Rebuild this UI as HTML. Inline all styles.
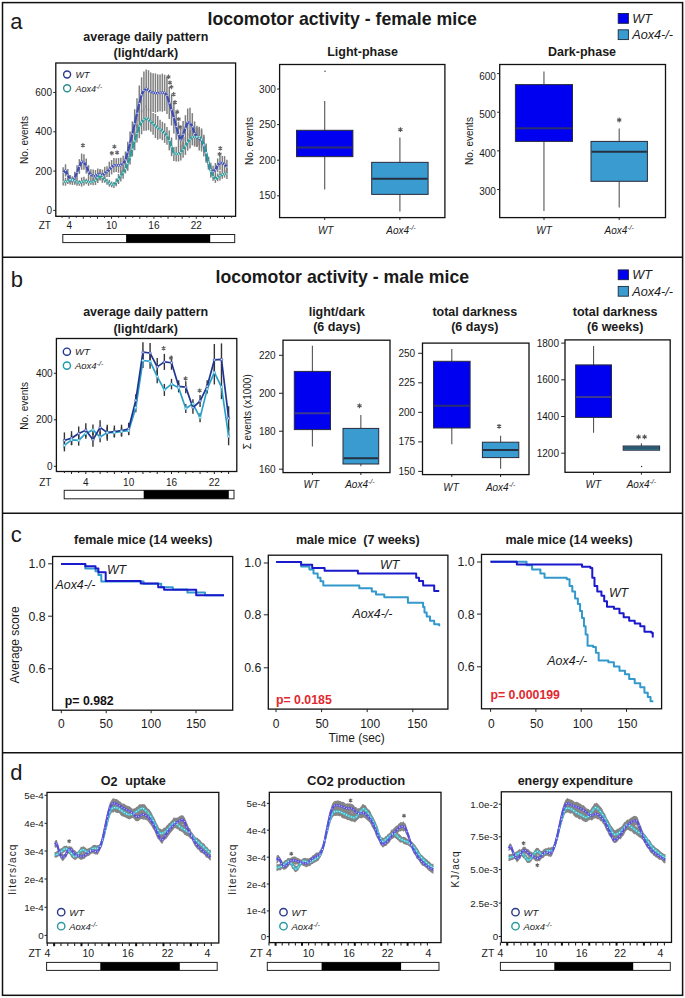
<!DOCTYPE html><html><head><meta charset="utf-8"><style>html,body{margin:0;padding:0;background:#fff;width:685px;height:998px;overflow:hidden}svg{display:block}</style></head><body><svg width="685" height="998" viewBox="0 0 685 998" font-family="Liberation Sans, sans-serif">
<rect x="0" y="0" width="685" height="998" fill="#fff"/>
<rect x="2.50" y="2.60" width="680.10" height="992.70" fill="none" stroke="#111" stroke-width="1.5"/>
<line x1="2.50" y1="257.30" x2="682.60" y2="257.30" stroke="#111" stroke-width="1.5"/>
<line x1="2.50" y1="513.30" x2="682.60" y2="513.30" stroke="#111" stroke-width="1.5"/>
<line x1="2.50" y1="752.80" x2="682.60" y2="752.80" stroke="#111" stroke-width="1.5"/>
<text x="10.20" y="29.00" font-size="22" text-anchor="start" fill="#1a1a1a" >a</text>
<text x="207.50" y="24.50" font-size="17.7" text-anchor="start" font-weight="bold" fill="#1a1a1a" >locomotor activity - female mice</text>
<rect x="618.20" y="13.50" width="10.20" height="9.80" fill="#0000f0" stroke="#1a1a40" stroke-width="0.9"/>
<rect x="618.20" y="29.80" width="10.20" height="9.80" fill="#3a9bd0" stroke="#1a2a3a" stroke-width="0.9"/>
<text x="632.20" y="22.70" font-size="12.7" text-anchor="start" font-style="italic" fill="#1a1a1a" >WT</text>
<text x="632.20" y="39.00" font-size="12.7" text-anchor="start" font-style="italic" fill="#1a1a1a" >Aox4-/-</text>
<text x="145.80" y="41.20" font-size="12.5" text-anchor="middle" font-weight="bold" fill="#1a1a1a" >average daily pattern</text>
<text x="145.80" y="57.20" font-size="12.5" text-anchor="middle" font-weight="bold" fill="#1a1a1a" >(light/dark)</text>
<rect x="55.80" y="63.00" width="179.80" height="153.30" fill="#fff" stroke="#111" stroke-width="1.3"/>
<line x1="53.30" y1="210.40" x2="55.80" y2="210.40" stroke="#222" stroke-width="1"/>
<text x="52.00" y="214.00" font-size="10" text-anchor="end" fill="#1a1a1a" >0</text>
<line x1="53.30" y1="171.10" x2="55.80" y2="171.10" stroke="#222" stroke-width="1"/>
<text x="52.00" y="174.70" font-size="10" text-anchor="end" fill="#1a1a1a" >200</text>
<line x1="53.30" y1="131.80" x2="55.80" y2="131.80" stroke="#222" stroke-width="1"/>
<text x="52.00" y="135.40" font-size="10" text-anchor="end" fill="#1a1a1a" >400</text>
<line x1="53.30" y1="92.50" x2="55.80" y2="92.50" stroke="#222" stroke-width="1"/>
<text x="52.00" y="96.10" font-size="10" text-anchor="end" fill="#1a1a1a" >600</text>
<text x="44.80" y="229.30" font-size="10" text-anchor="middle" fill="#1a1a1a" >ZT</text>
<text x="69.20" y="229.30" font-size="10" text-anchor="middle" fill="#1a1a1a" >4</text>
<text x="111.56" y="229.30" font-size="10" text-anchor="middle" fill="#1a1a1a" >10</text>
<text x="153.92" y="229.30" font-size="10" text-anchor="middle" fill="#1a1a1a" >16</text>
<text x="196.28" y="229.30" font-size="10" text-anchor="middle" fill="#1a1a1a" >22</text>
<line x1="62.14" y1="216.30" x2="62.14" y2="217.80" stroke="#222" stroke-width="1.0"/>
<line x1="69.20" y1="216.30" x2="69.20" y2="218.80" stroke="#222" stroke-width="1.0"/>
<line x1="76.26" y1="216.30" x2="76.26" y2="217.80" stroke="#222" stroke-width="1.0"/>
<line x1="83.32" y1="216.30" x2="83.32" y2="218.80" stroke="#222" stroke-width="1.0"/>
<line x1="90.38" y1="216.30" x2="90.38" y2="217.80" stroke="#222" stroke-width="1.0"/>
<line x1="97.44" y1="216.30" x2="97.44" y2="218.80" stroke="#222" stroke-width="1.0"/>
<line x1="104.50" y1="216.30" x2="104.50" y2="217.80" stroke="#222" stroke-width="1.0"/>
<line x1="111.56" y1="216.30" x2="111.56" y2="218.80" stroke="#222" stroke-width="1.0"/>
<line x1="118.62" y1="216.30" x2="118.62" y2="217.80" stroke="#222" stroke-width="1.0"/>
<line x1="125.68" y1="216.30" x2="125.68" y2="218.80" stroke="#222" stroke-width="1.0"/>
<line x1="132.74" y1="216.30" x2="132.74" y2="217.80" stroke="#222" stroke-width="1.0"/>
<line x1="139.80" y1="216.30" x2="139.80" y2="218.80" stroke="#222" stroke-width="1.0"/>
<line x1="146.86" y1="216.30" x2="146.86" y2="217.80" stroke="#222" stroke-width="1.0"/>
<line x1="153.92" y1="216.30" x2="153.92" y2="218.80" stroke="#222" stroke-width="1.0"/>
<line x1="160.98" y1="216.30" x2="160.98" y2="217.80" stroke="#222" stroke-width="1.0"/>
<line x1="168.04" y1="216.30" x2="168.04" y2="218.80" stroke="#222" stroke-width="1.0"/>
<line x1="175.10" y1="216.30" x2="175.10" y2="217.80" stroke="#222" stroke-width="1.0"/>
<line x1="182.16" y1="216.30" x2="182.16" y2="218.80" stroke="#222" stroke-width="1.0"/>
<line x1="189.22" y1="216.30" x2="189.22" y2="217.80" stroke="#222" stroke-width="1.0"/>
<line x1="196.28" y1="216.30" x2="196.28" y2="218.80" stroke="#222" stroke-width="1.0"/>
<line x1="203.34" y1="216.30" x2="203.34" y2="217.80" stroke="#222" stroke-width="1.0"/>
<line x1="210.40" y1="216.30" x2="210.40" y2="218.80" stroke="#222" stroke-width="1.0"/>
<line x1="217.46" y1="216.30" x2="217.46" y2="217.80" stroke="#222" stroke-width="1.0"/>
<line x1="224.52" y1="216.30" x2="224.52" y2="218.80" stroke="#222" stroke-width="1.0"/>
<line x1="231.58" y1="216.30" x2="231.58" y2="217.80" stroke="#222" stroke-width="1.0"/>
<rect x="62.80" y="234.50" width="171.90" height="8.10" fill="#fff" stroke="#222" stroke-width="1.0"/>
<rect x="126.10" y="234.50" width="84.10" height="8.10" fill="#000"/>
<text x="0" y="0" font-size="10" text-anchor="middle" fill="#1a1a1a" transform="translate(28.00,140.00) rotate(-90)">No. events</text>
<line x1="63.20" y1="167.25" x2="63.20" y2="178.09" stroke="#7f7f7f" stroke-width="1.5"/>
<line x1="63.20" y1="177.88" x2="63.20" y2="185.54" stroke="#7f7f7f" stroke-width="1.5"/>
<line x1="65.51" y1="164.31" x2="65.51" y2="176.50" stroke="#7f7f7f" stroke-width="1.5"/>
<line x1="65.51" y1="177.74" x2="65.51" y2="185.69" stroke="#7f7f7f" stroke-width="1.5"/>
<line x1="67.81" y1="168.98" x2="67.81" y2="180.92" stroke="#7f7f7f" stroke-width="1.5"/>
<line x1="67.81" y1="178.49" x2="67.81" y2="184.02" stroke="#7f7f7f" stroke-width="1.5"/>
<line x1="70.12" y1="175.34" x2="70.12" y2="183.03" stroke="#7f7f7f" stroke-width="1.5"/>
<line x1="70.12" y1="175.01" x2="70.12" y2="184.56" stroke="#7f7f7f" stroke-width="1.5"/>
<line x1="72.42" y1="176.69" x2="72.42" y2="185.01" stroke="#7f7f7f" stroke-width="1.5"/>
<line x1="72.42" y1="176.40" x2="72.42" y2="183.11" stroke="#7f7f7f" stroke-width="1.5"/>
<line x1="74.73" y1="171.77" x2="74.73" y2="184.44" stroke="#7f7f7f" stroke-width="1.5"/>
<line x1="74.73" y1="177.02" x2="74.73" y2="184.58" stroke="#7f7f7f" stroke-width="1.5"/>
<line x1="77.03" y1="165.31" x2="77.03" y2="179.11" stroke="#7f7f7f" stroke-width="1.5"/>
<line x1="77.03" y1="178.39" x2="77.03" y2="185.66" stroke="#7f7f7f" stroke-width="1.5"/>
<line x1="79.34" y1="159.16" x2="79.34" y2="173.86" stroke="#7f7f7f" stroke-width="1.5"/>
<line x1="79.34" y1="180.20" x2="79.34" y2="185.69" stroke="#7f7f7f" stroke-width="1.5"/>
<line x1="81.65" y1="153.56" x2="81.65" y2="169.79" stroke="#7f7f7f" stroke-width="1.5"/>
<line x1="81.65" y1="177.43" x2="81.65" y2="186.55" stroke="#7f7f7f" stroke-width="1.5"/>
<line x1="83.95" y1="154.30" x2="83.95" y2="169.87" stroke="#7f7f7f" stroke-width="1.5"/>
<line x1="83.95" y1="176.64" x2="83.95" y2="185.42" stroke="#7f7f7f" stroke-width="1.5"/>
<line x1="86.26" y1="158.55" x2="86.26" y2="173.55" stroke="#7f7f7f" stroke-width="1.5"/>
<line x1="86.26" y1="178.69" x2="86.26" y2="184.17" stroke="#7f7f7f" stroke-width="1.5"/>
<line x1="88.56" y1="165.13" x2="88.56" y2="178.67" stroke="#7f7f7f" stroke-width="1.5"/>
<line x1="88.56" y1="178.03" x2="88.56" y2="185.86" stroke="#7f7f7f" stroke-width="1.5"/>
<line x1="90.87" y1="169.24" x2="90.87" y2="179.78" stroke="#7f7f7f" stroke-width="1.5"/>
<line x1="90.87" y1="179.61" x2="90.87" y2="184.74" stroke="#7f7f7f" stroke-width="1.5"/>
<line x1="93.17" y1="169.57" x2="93.17" y2="182.32" stroke="#7f7f7f" stroke-width="1.5"/>
<line x1="93.17" y1="177.98" x2="93.17" y2="185.32" stroke="#7f7f7f" stroke-width="1.5"/>
<line x1="95.48" y1="170.10" x2="95.48" y2="182.11" stroke="#7f7f7f" stroke-width="1.5"/>
<line x1="95.48" y1="175.45" x2="95.48" y2="185.07" stroke="#7f7f7f" stroke-width="1.5"/>
<line x1="97.78" y1="168.40" x2="97.78" y2="180.86" stroke="#7f7f7f" stroke-width="1.5"/>
<line x1="97.78" y1="172.61" x2="97.78" y2="183.06" stroke="#7f7f7f" stroke-width="1.5"/>
<line x1="100.09" y1="168.97" x2="100.09" y2="179.97" stroke="#7f7f7f" stroke-width="1.5"/>
<line x1="100.09" y1="170.04" x2="100.09" y2="180.58" stroke="#7f7f7f" stroke-width="1.5"/>
<line x1="102.40" y1="169.66" x2="102.40" y2="180.67" stroke="#7f7f7f" stroke-width="1.5"/>
<line x1="102.40" y1="172.22" x2="102.40" y2="182.82" stroke="#7f7f7f" stroke-width="1.5"/>
<line x1="104.70" y1="166.79" x2="104.70" y2="180.36" stroke="#7f7f7f" stroke-width="1.5"/>
<line x1="104.70" y1="176.62" x2="104.70" y2="182.71" stroke="#7f7f7f" stroke-width="1.5"/>
<line x1="107.01" y1="166.33" x2="107.01" y2="177.01" stroke="#7f7f7f" stroke-width="1.5"/>
<line x1="107.01" y1="178.64" x2="107.01" y2="184.77" stroke="#7f7f7f" stroke-width="1.5"/>
<line x1="109.31" y1="161.68" x2="109.31" y2="177.01" stroke="#7f7f7f" stroke-width="1.5"/>
<line x1="109.31" y1="179.82" x2="109.31" y2="186.59" stroke="#7f7f7f" stroke-width="1.5"/>
<line x1="111.62" y1="159.98" x2="111.62" y2="174.41" stroke="#7f7f7f" stroke-width="1.5"/>
<line x1="111.62" y1="181.46" x2="111.62" y2="187.29" stroke="#7f7f7f" stroke-width="1.5"/>
<line x1="113.92" y1="157.97" x2="113.92" y2="172.47" stroke="#7f7f7f" stroke-width="1.5"/>
<line x1="113.92" y1="181.90" x2="113.92" y2="187.98" stroke="#7f7f7f" stroke-width="1.5"/>
<line x1="116.23" y1="158.18" x2="116.23" y2="171.98" stroke="#7f7f7f" stroke-width="1.5"/>
<line x1="116.23" y1="178.51" x2="116.23" y2="186.20" stroke="#7f7f7f" stroke-width="1.5"/>
<line x1="118.54" y1="158.00" x2="118.54" y2="172.80" stroke="#7f7f7f" stroke-width="1.5"/>
<line x1="118.54" y1="173.94" x2="118.54" y2="184.02" stroke="#7f7f7f" stroke-width="1.5"/>
<line x1="120.84" y1="157.77" x2="120.84" y2="173.03" stroke="#7f7f7f" stroke-width="1.5"/>
<line x1="120.84" y1="170.47" x2="120.84" y2="181.45" stroke="#7f7f7f" stroke-width="1.5"/>
<line x1="123.15" y1="155.67" x2="123.15" y2="172.21" stroke="#7f7f7f" stroke-width="1.5"/>
<line x1="123.15" y1="166.57" x2="123.15" y2="178.70" stroke="#7f7f7f" stroke-width="1.5"/>
<line x1="125.45" y1="151.48" x2="125.45" y2="168.43" stroke="#7f7f7f" stroke-width="1.5"/>
<line x1="125.45" y1="164.17" x2="125.45" y2="173.40" stroke="#7f7f7f" stroke-width="1.5"/>
<line x1="127.76" y1="141.80" x2="127.76" y2="162.19" stroke="#7f7f7f" stroke-width="1.5"/>
<line x1="127.76" y1="156.36" x2="127.76" y2="170.73" stroke="#7f7f7f" stroke-width="1.5"/>
<line x1="130.06" y1="131.59" x2="130.06" y2="154.98" stroke="#7f7f7f" stroke-width="1.5"/>
<line x1="130.06" y1="150.47" x2="130.06" y2="164.55" stroke="#7f7f7f" stroke-width="1.5"/>
<line x1="132.37" y1="121.39" x2="132.37" y2="146.82" stroke="#7f7f7f" stroke-width="1.5"/>
<line x1="132.37" y1="142.00" x2="132.37" y2="156.53" stroke="#7f7f7f" stroke-width="1.5"/>
<line x1="134.67" y1="109.19" x2="134.67" y2="138.46" stroke="#7f7f7f" stroke-width="1.5"/>
<line x1="134.67" y1="131.86" x2="134.67" y2="150.24" stroke="#7f7f7f" stroke-width="1.5"/>
<line x1="136.98" y1="98.32" x2="136.98" y2="128.36" stroke="#7f7f7f" stroke-width="1.5"/>
<line x1="136.98" y1="124.53" x2="136.98" y2="142.47" stroke="#7f7f7f" stroke-width="1.5"/>
<line x1="139.29" y1="85.48" x2="139.29" y2="121.38" stroke="#7f7f7f" stroke-width="1.5"/>
<line x1="139.29" y1="113.91" x2="139.29" y2="138.16" stroke="#7f7f7f" stroke-width="1.5"/>
<line x1="141.59" y1="77.29" x2="141.59" y2="112.34" stroke="#7f7f7f" stroke-width="1.5"/>
<line x1="141.59" y1="109.94" x2="141.59" y2="134.31" stroke="#7f7f7f" stroke-width="1.5"/>
<line x1="143.90" y1="71.60" x2="143.90" y2="109.53" stroke="#7f7f7f" stroke-width="1.5"/>
<line x1="143.90" y1="108.83" x2="143.90" y2="130.74" stroke="#7f7f7f" stroke-width="1.5"/>
<line x1="146.20" y1="69.48" x2="146.20" y2="107.52" stroke="#7f7f7f" stroke-width="1.5"/>
<line x1="146.20" y1="105.45" x2="146.20" y2="130.72" stroke="#7f7f7f" stroke-width="1.5"/>
<line x1="148.51" y1="70.25" x2="148.51" y2="110.42" stroke="#7f7f7f" stroke-width="1.5"/>
<line x1="148.51" y1="108.68" x2="148.51" y2="130.18" stroke="#7f7f7f" stroke-width="1.5"/>
<line x1="150.81" y1="72.44" x2="150.81" y2="110.96" stroke="#7f7f7f" stroke-width="1.5"/>
<line x1="150.81" y1="110.87" x2="150.81" y2="131.87" stroke="#7f7f7f" stroke-width="1.5"/>
<line x1="153.12" y1="73.35" x2="153.12" y2="112.05" stroke="#7f7f7f" stroke-width="1.5"/>
<line x1="153.12" y1="112.90" x2="153.12" y2="134.63" stroke="#7f7f7f" stroke-width="1.5"/>
<line x1="155.43" y1="73.40" x2="155.43" y2="112.74" stroke="#7f7f7f" stroke-width="1.5"/>
<line x1="155.43" y1="113.86" x2="155.43" y2="138.08" stroke="#7f7f7f" stroke-width="1.5"/>
<line x1="157.73" y1="74.36" x2="157.73" y2="111.91" stroke="#7f7f7f" stroke-width="1.5"/>
<line x1="157.73" y1="115.93" x2="157.73" y2="139.75" stroke="#7f7f7f" stroke-width="1.5"/>
<line x1="160.04" y1="74.38" x2="160.04" y2="111.13" stroke="#7f7f7f" stroke-width="1.5"/>
<line x1="160.04" y1="119.67" x2="160.04" y2="138.78" stroke="#7f7f7f" stroke-width="1.5"/>
<line x1="162.34" y1="73.63" x2="162.34" y2="111.76" stroke="#7f7f7f" stroke-width="1.5"/>
<line x1="162.34" y1="121.77" x2="162.34" y2="140.21" stroke="#7f7f7f" stroke-width="1.5"/>
<line x1="164.65" y1="74.75" x2="164.65" y2="110.94" stroke="#7f7f7f" stroke-width="1.5"/>
<line x1="164.65" y1="123.21" x2="164.65" y2="142.89" stroke="#7f7f7f" stroke-width="1.5"/>
<line x1="166.95" y1="76.75" x2="166.95" y2="114.07" stroke="#7f7f7f" stroke-width="1.5"/>
<line x1="166.95" y1="126.93" x2="166.95" y2="144.70" stroke="#7f7f7f" stroke-width="1.5"/>
<line x1="169.26" y1="86.77" x2="169.26" y2="119.02" stroke="#7f7f7f" stroke-width="1.5"/>
<line x1="169.26" y1="130.42" x2="169.26" y2="150.36" stroke="#7f7f7f" stroke-width="1.5"/>
<line x1="171.56" y1="94.16" x2="171.56" y2="125.47" stroke="#7f7f7f" stroke-width="1.5"/>
<line x1="171.56" y1="137.49" x2="171.56" y2="156.18" stroke="#7f7f7f" stroke-width="1.5"/>
<line x1="173.87" y1="101.89" x2="173.87" y2="133.44" stroke="#7f7f7f" stroke-width="1.5"/>
<line x1="173.87" y1="146.96" x2="173.87" y2="161.05" stroke="#7f7f7f" stroke-width="1.5"/>
<line x1="176.18" y1="113.10" x2="176.18" y2="139.78" stroke="#7f7f7f" stroke-width="1.5"/>
<line x1="176.18" y1="146.63" x2="176.18" y2="161.38" stroke="#7f7f7f" stroke-width="1.5"/>
<line x1="178.48" y1="122.10" x2="178.48" y2="147.04" stroke="#7f7f7f" stroke-width="1.5"/>
<line x1="178.48" y1="146.45" x2="178.48" y2="161.56" stroke="#7f7f7f" stroke-width="1.5"/>
<line x1="180.79" y1="128.59" x2="180.79" y2="151.40" stroke="#7f7f7f" stroke-width="1.5"/>
<line x1="180.79" y1="144.80" x2="180.79" y2="160.39" stroke="#7f7f7f" stroke-width="1.5"/>
<line x1="183.09" y1="121.09" x2="183.09" y2="147.52" stroke="#7f7f7f" stroke-width="1.5"/>
<line x1="183.09" y1="141.86" x2="183.09" y2="157.66" stroke="#7f7f7f" stroke-width="1.5"/>
<line x1="185.40" y1="115.18" x2="185.40" y2="141.17" stroke="#7f7f7f" stroke-width="1.5"/>
<line x1="185.40" y1="137.09" x2="185.40" y2="154.88" stroke="#7f7f7f" stroke-width="1.5"/>
<line x1="187.70" y1="108.59" x2="187.70" y2="135.61" stroke="#7f7f7f" stroke-width="1.5"/>
<line x1="187.70" y1="133.81" x2="187.70" y2="150.60" stroke="#7f7f7f" stroke-width="1.5"/>
<line x1="190.01" y1="107.85" x2="190.01" y2="138.08" stroke="#7f7f7f" stroke-width="1.5"/>
<line x1="190.01" y1="129.88" x2="190.01" y2="148.50" stroke="#7f7f7f" stroke-width="1.5"/>
<line x1="192.32" y1="113.14" x2="192.32" y2="140.17" stroke="#7f7f7f" stroke-width="1.5"/>
<line x1="192.32" y1="128.59" x2="192.32" y2="145.38" stroke="#7f7f7f" stroke-width="1.5"/>
<line x1="194.62" y1="121.43" x2="194.62" y2="145.63" stroke="#7f7f7f" stroke-width="1.5"/>
<line x1="194.62" y1="127.19" x2="194.62" y2="146.67" stroke="#7f7f7f" stroke-width="1.5"/>
<line x1="196.93" y1="125.65" x2="196.93" y2="147.08" stroke="#7f7f7f" stroke-width="1.5"/>
<line x1="196.93" y1="127.22" x2="196.93" y2="146.84" stroke="#7f7f7f" stroke-width="1.5"/>
<line x1="199.23" y1="126.79" x2="199.23" y2="150.39" stroke="#7f7f7f" stroke-width="1.5"/>
<line x1="199.23" y1="128.25" x2="199.23" y2="145.32" stroke="#7f7f7f" stroke-width="1.5"/>
<line x1="201.54" y1="128.40" x2="201.54" y2="151.54" stroke="#7f7f7f" stroke-width="1.5"/>
<line x1="201.54" y1="129.97" x2="201.54" y2="148.34" stroke="#7f7f7f" stroke-width="1.5"/>
<line x1="203.84" y1="134.85" x2="203.84" y2="156.42" stroke="#7f7f7f" stroke-width="1.5"/>
<line x1="203.84" y1="136.44" x2="203.84" y2="152.84" stroke="#7f7f7f" stroke-width="1.5"/>
<line x1="206.15" y1="143.40" x2="206.15" y2="162.73" stroke="#7f7f7f" stroke-width="1.5"/>
<line x1="206.15" y1="144.81" x2="206.15" y2="160.90" stroke="#7f7f7f" stroke-width="1.5"/>
<line x1="208.45" y1="156.98" x2="208.45" y2="169.77" stroke="#7f7f7f" stroke-width="1.5"/>
<line x1="208.45" y1="156.82" x2="208.45" y2="167.32" stroke="#7f7f7f" stroke-width="1.5"/>
<line x1="210.76" y1="162.64" x2="210.76" y2="176.53" stroke="#7f7f7f" stroke-width="1.5"/>
<line x1="210.76" y1="165.11" x2="210.76" y2="177.46" stroke="#7f7f7f" stroke-width="1.5"/>
<line x1="213.07" y1="165.85" x2="213.07" y2="177.13" stroke="#7f7f7f" stroke-width="1.5"/>
<line x1="213.07" y1="172.09" x2="213.07" y2="180.72" stroke="#7f7f7f" stroke-width="1.5"/>
<line x1="215.37" y1="162.99" x2="215.37" y2="176.45" stroke="#7f7f7f" stroke-width="1.5"/>
<line x1="215.37" y1="175.58" x2="215.37" y2="182.84" stroke="#7f7f7f" stroke-width="1.5"/>
<line x1="217.68" y1="158.42" x2="217.68" y2="172.21" stroke="#7f7f7f" stroke-width="1.5"/>
<line x1="217.68" y1="173.47" x2="217.68" y2="181.18" stroke="#7f7f7f" stroke-width="1.5"/>
<line x1="219.98" y1="155.69" x2="219.98" y2="170.25" stroke="#7f7f7f" stroke-width="1.5"/>
<line x1="219.98" y1="170.98" x2="219.98" y2="180.45" stroke="#7f7f7f" stroke-width="1.5"/>
<line x1="222.29" y1="155.97" x2="222.29" y2="170.17" stroke="#7f7f7f" stroke-width="1.5"/>
<line x1="222.29" y1="169.97" x2="222.29" y2="178.76" stroke="#7f7f7f" stroke-width="1.5"/>
<line x1="224.59" y1="156.12" x2="224.59" y2="172.20" stroke="#7f7f7f" stroke-width="1.5"/>
<line x1="224.59" y1="170.34" x2="224.59" y2="177.58" stroke="#7f7f7f" stroke-width="1.5"/>
<line x1="226.90" y1="159.86" x2="226.90" y2="174.09" stroke="#7f7f7f" stroke-width="1.5"/>
<line x1="226.90" y1="168.32" x2="226.90" y2="178.99" stroke="#7f7f7f" stroke-width="1.5"/>
<polyline points="63.20,172.67 65.51,170.41 67.81,174.95 70.12,179.18 72.42,180.85 74.73,178.10 77.03,172.21 79.34,166.51 81.65,161.68 83.95,162.09 86.26,166.05 88.56,171.90 90.87,174.51 93.17,175.95 95.48,176.10 97.78,174.63 100.09,174.47 102.40,175.16 104.70,173.57 107.01,171.67 109.31,169.35 111.62,167.19 113.92,165.22 116.23,165.08 118.54,165.40 120.84,165.40 123.15,163.94 125.45,159.96 127.76,151.99 130.06,143.28 132.37,134.10 134.67,123.82 136.98,113.34 139.29,103.43 141.59,94.82 143.90,90.57 146.20,88.50 148.51,90.33 150.81,91.70 153.12,92.70 155.43,93.07 157.73,93.13 160.04,92.76 162.34,92.70 164.65,92.84 166.95,95.41 169.26,102.90 171.56,109.82 173.87,117.66 176.18,126.44 178.48,134.57 180.79,140.00 183.09,134.31 185.40,128.18 187.70,122.10 190.01,122.97 192.32,126.66 194.62,133.53 196.93,136.37 199.23,138.59 201.54,139.97 203.84,145.63 206.15,153.07 208.45,163.38 210.76,169.59 213.07,171.49 215.37,169.72 217.68,165.32 219.98,162.97 222.29,163.07 224.59,164.16 226.90,166.97" fill="none" stroke="#3d4db5" stroke-width="2.2" stroke-linejoin="round" />
<polyline points="63.20,181.71 65.51,181.71 67.81,181.26 70.12,179.78 72.42,179.76 74.73,180.80 77.03,182.02 79.34,182.95 81.65,181.99 83.95,181.03 86.26,181.43 88.56,181.94 90.87,182.18 93.17,181.65 95.48,180.26 97.78,177.84 100.09,175.31 102.40,177.52 104.70,179.67 107.01,181.71 109.31,183.21 111.62,184.37 113.92,184.94 116.23,182.36 118.54,178.98 120.84,175.96 123.15,172.63 125.45,168.78 127.76,163.55 130.06,157.51 132.37,149.26 134.67,141.05 136.98,133.50 139.29,126.03 141.59,122.13 143.90,119.78 146.20,118.08 148.51,119.43 150.81,121.37 153.12,123.76 155.43,125.97 157.73,127.84 160.04,129.22 162.34,130.99 164.65,133.05 166.95,135.82 169.26,140.39 171.56,146.83 173.87,154.00 176.18,154.00 178.48,154.00 180.79,152.59 183.09,149.76 185.40,145.98 187.70,142.21 190.01,139.19 192.32,136.98 194.62,136.93 196.93,137.03 199.23,136.78 201.54,139.15 203.84,144.64 206.15,152.85 208.45,162.07 210.76,171.29 213.07,176.41 215.37,179.21 217.68,177.32 219.98,175.71 222.29,174.37 224.59,173.96 226.90,173.65" fill="none" stroke="#2a9c9c" stroke-width="2.2" stroke-linejoin="round" />
<circle cx="63.20" cy="172.67" r="0.75" fill="#d8def8"/>
<circle cx="65.51" cy="170.41" r="0.75" fill="#d8def8"/>
<circle cx="67.81" cy="174.95" r="0.75" fill="#d8def8"/>
<circle cx="70.12" cy="179.18" r="0.75" fill="#d8def8"/>
<circle cx="72.42" cy="180.85" r="0.75" fill="#d8def8"/>
<circle cx="74.73" cy="178.10" r="0.75" fill="#d8def8"/>
<circle cx="77.03" cy="172.21" r="0.75" fill="#d8def8"/>
<circle cx="79.34" cy="166.51" r="0.75" fill="#d8def8"/>
<circle cx="81.65" cy="161.68" r="0.75" fill="#d8def8"/>
<circle cx="83.95" cy="162.09" r="0.75" fill="#d8def8"/>
<circle cx="86.26" cy="166.05" r="0.75" fill="#d8def8"/>
<circle cx="88.56" cy="171.90" r="0.75" fill="#d8def8"/>
<circle cx="90.87" cy="174.51" r="0.75" fill="#d8def8"/>
<circle cx="93.17" cy="175.95" r="0.75" fill="#d8def8"/>
<circle cx="95.48" cy="176.10" r="0.75" fill="#d8def8"/>
<circle cx="97.78" cy="174.63" r="0.75" fill="#d8def8"/>
<circle cx="100.09" cy="174.47" r="0.75" fill="#d8def8"/>
<circle cx="102.40" cy="175.16" r="0.75" fill="#d8def8"/>
<circle cx="104.70" cy="173.57" r="0.75" fill="#d8def8"/>
<circle cx="107.01" cy="171.67" r="0.75" fill="#d8def8"/>
<circle cx="109.31" cy="169.35" r="0.75" fill="#d8def8"/>
<circle cx="111.62" cy="167.19" r="0.75" fill="#d8def8"/>
<circle cx="113.92" cy="165.22" r="0.75" fill="#d8def8"/>
<circle cx="116.23" cy="165.08" r="0.75" fill="#d8def8"/>
<circle cx="118.54" cy="165.40" r="0.75" fill="#d8def8"/>
<circle cx="120.84" cy="165.40" r="0.75" fill="#d8def8"/>
<circle cx="123.15" cy="163.94" r="0.75" fill="#d8def8"/>
<circle cx="125.45" cy="159.96" r="0.75" fill="#d8def8"/>
<circle cx="127.76" cy="151.99" r="0.75" fill="#d8def8"/>
<circle cx="130.06" cy="143.28" r="0.75" fill="#d8def8"/>
<circle cx="132.37" cy="134.10" r="0.75" fill="#d8def8"/>
<circle cx="134.67" cy="123.82" r="0.75" fill="#d8def8"/>
<circle cx="136.98" cy="113.34" r="0.75" fill="#d8def8"/>
<circle cx="139.29" cy="103.43" r="0.75" fill="#d8def8"/>
<circle cx="141.59" cy="94.82" r="0.75" fill="#d8def8"/>
<circle cx="143.90" cy="90.57" r="0.75" fill="#d8def8"/>
<circle cx="146.20" cy="88.50" r="0.75" fill="#d8def8"/>
<circle cx="148.51" cy="90.33" r="0.75" fill="#d8def8"/>
<circle cx="150.81" cy="91.70" r="0.75" fill="#d8def8"/>
<circle cx="153.12" cy="92.70" r="0.75" fill="#d8def8"/>
<circle cx="155.43" cy="93.07" r="0.75" fill="#d8def8"/>
<circle cx="157.73" cy="93.13" r="0.75" fill="#d8def8"/>
<circle cx="160.04" cy="92.76" r="0.75" fill="#d8def8"/>
<circle cx="162.34" cy="92.70" r="0.75" fill="#d8def8"/>
<circle cx="164.65" cy="92.84" r="0.75" fill="#d8def8"/>
<circle cx="166.95" cy="95.41" r="0.75" fill="#d8def8"/>
<circle cx="169.26" cy="102.90" r="0.75" fill="#d8def8"/>
<circle cx="171.56" cy="109.82" r="0.75" fill="#d8def8"/>
<circle cx="173.87" cy="117.66" r="0.75" fill="#d8def8"/>
<circle cx="176.18" cy="126.44" r="0.75" fill="#d8def8"/>
<circle cx="178.48" cy="134.57" r="0.75" fill="#d8def8"/>
<circle cx="180.79" cy="140.00" r="0.75" fill="#d8def8"/>
<circle cx="183.09" cy="134.31" r="0.75" fill="#d8def8"/>
<circle cx="185.40" cy="128.18" r="0.75" fill="#d8def8"/>
<circle cx="187.70" cy="122.10" r="0.75" fill="#d8def8"/>
<circle cx="190.01" cy="122.97" r="0.75" fill="#d8def8"/>
<circle cx="192.32" cy="126.66" r="0.75" fill="#d8def8"/>
<circle cx="194.62" cy="133.53" r="0.75" fill="#d8def8"/>
<circle cx="196.93" cy="136.37" r="0.75" fill="#d8def8"/>
<circle cx="199.23" cy="138.59" r="0.75" fill="#d8def8"/>
<circle cx="201.54" cy="139.97" r="0.75" fill="#d8def8"/>
<circle cx="203.84" cy="145.63" r="0.75" fill="#d8def8"/>
<circle cx="206.15" cy="153.07" r="0.75" fill="#d8def8"/>
<circle cx="208.45" cy="163.38" r="0.75" fill="#d8def8"/>
<circle cx="210.76" cy="169.59" r="0.75" fill="#d8def8"/>
<circle cx="213.07" cy="171.49" r="0.75" fill="#d8def8"/>
<circle cx="215.37" cy="169.72" r="0.75" fill="#d8def8"/>
<circle cx="217.68" cy="165.32" r="0.75" fill="#d8def8"/>
<circle cx="219.98" cy="162.97" r="0.75" fill="#d8def8"/>
<circle cx="222.29" cy="163.07" r="0.75" fill="#d8def8"/>
<circle cx="224.59" cy="164.16" r="0.75" fill="#d8def8"/>
<circle cx="226.90" cy="166.97" r="0.75" fill="#d8def8"/>
<circle cx="63.20" cy="181.71" r="0.75" fill="#d0f4f4"/>
<circle cx="65.51" cy="181.71" r="0.75" fill="#d0f4f4"/>
<circle cx="67.81" cy="181.26" r="0.75" fill="#d0f4f4"/>
<circle cx="70.12" cy="179.78" r="0.75" fill="#d0f4f4"/>
<circle cx="72.42" cy="179.76" r="0.75" fill="#d0f4f4"/>
<circle cx="74.73" cy="180.80" r="0.75" fill="#d0f4f4"/>
<circle cx="77.03" cy="182.02" r="0.75" fill="#d0f4f4"/>
<circle cx="79.34" cy="182.95" r="0.75" fill="#d0f4f4"/>
<circle cx="81.65" cy="181.99" r="0.75" fill="#d0f4f4"/>
<circle cx="83.95" cy="181.03" r="0.75" fill="#d0f4f4"/>
<circle cx="86.26" cy="181.43" r="0.75" fill="#d0f4f4"/>
<circle cx="88.56" cy="181.94" r="0.75" fill="#d0f4f4"/>
<circle cx="90.87" cy="182.18" r="0.75" fill="#d0f4f4"/>
<circle cx="93.17" cy="181.65" r="0.75" fill="#d0f4f4"/>
<circle cx="95.48" cy="180.26" r="0.75" fill="#d0f4f4"/>
<circle cx="97.78" cy="177.84" r="0.75" fill="#d0f4f4"/>
<circle cx="100.09" cy="175.31" r="0.75" fill="#d0f4f4"/>
<circle cx="102.40" cy="177.52" r="0.75" fill="#d0f4f4"/>
<circle cx="104.70" cy="179.67" r="0.75" fill="#d0f4f4"/>
<circle cx="107.01" cy="181.71" r="0.75" fill="#d0f4f4"/>
<circle cx="109.31" cy="183.21" r="0.75" fill="#d0f4f4"/>
<circle cx="111.62" cy="184.37" r="0.75" fill="#d0f4f4"/>
<circle cx="113.92" cy="184.94" r="0.75" fill="#d0f4f4"/>
<circle cx="116.23" cy="182.36" r="0.75" fill="#d0f4f4"/>
<circle cx="118.54" cy="178.98" r="0.75" fill="#d0f4f4"/>
<circle cx="120.84" cy="175.96" r="0.75" fill="#d0f4f4"/>
<circle cx="123.15" cy="172.63" r="0.75" fill="#d0f4f4"/>
<circle cx="125.45" cy="168.78" r="0.75" fill="#d0f4f4"/>
<circle cx="127.76" cy="163.55" r="0.75" fill="#d0f4f4"/>
<circle cx="130.06" cy="157.51" r="0.75" fill="#d0f4f4"/>
<circle cx="132.37" cy="149.26" r="0.75" fill="#d0f4f4"/>
<circle cx="134.67" cy="141.05" r="0.75" fill="#d0f4f4"/>
<circle cx="136.98" cy="133.50" r="0.75" fill="#d0f4f4"/>
<circle cx="139.29" cy="126.03" r="0.75" fill="#d0f4f4"/>
<circle cx="141.59" cy="122.13" r="0.75" fill="#d0f4f4"/>
<circle cx="143.90" cy="119.78" r="0.75" fill="#d0f4f4"/>
<circle cx="146.20" cy="118.08" r="0.75" fill="#d0f4f4"/>
<circle cx="148.51" cy="119.43" r="0.75" fill="#d0f4f4"/>
<circle cx="150.81" cy="121.37" r="0.75" fill="#d0f4f4"/>
<circle cx="153.12" cy="123.76" r="0.75" fill="#d0f4f4"/>
<circle cx="155.43" cy="125.97" r="0.75" fill="#d0f4f4"/>
<circle cx="157.73" cy="127.84" r="0.75" fill="#d0f4f4"/>
<circle cx="160.04" cy="129.22" r="0.75" fill="#d0f4f4"/>
<circle cx="162.34" cy="130.99" r="0.75" fill="#d0f4f4"/>
<circle cx="164.65" cy="133.05" r="0.75" fill="#d0f4f4"/>
<circle cx="166.95" cy="135.82" r="0.75" fill="#d0f4f4"/>
<circle cx="169.26" cy="140.39" r="0.75" fill="#d0f4f4"/>
<circle cx="171.56" cy="146.83" r="0.75" fill="#d0f4f4"/>
<circle cx="173.87" cy="154.00" r="0.75" fill="#d0f4f4"/>
<circle cx="176.18" cy="154.00" r="0.75" fill="#d0f4f4"/>
<circle cx="178.48" cy="154.00" r="0.75" fill="#d0f4f4"/>
<circle cx="180.79" cy="152.59" r="0.75" fill="#d0f4f4"/>
<circle cx="183.09" cy="149.76" r="0.75" fill="#d0f4f4"/>
<circle cx="185.40" cy="145.98" r="0.75" fill="#d0f4f4"/>
<circle cx="187.70" cy="142.21" r="0.75" fill="#d0f4f4"/>
<circle cx="190.01" cy="139.19" r="0.75" fill="#d0f4f4"/>
<circle cx="192.32" cy="136.98" r="0.75" fill="#d0f4f4"/>
<circle cx="194.62" cy="136.93" r="0.75" fill="#d0f4f4"/>
<circle cx="196.93" cy="137.03" r="0.75" fill="#d0f4f4"/>
<circle cx="199.23" cy="136.78" r="0.75" fill="#d0f4f4"/>
<circle cx="201.54" cy="139.15" r="0.75" fill="#d0f4f4"/>
<circle cx="203.84" cy="144.64" r="0.75" fill="#d0f4f4"/>
<circle cx="206.15" cy="152.85" r="0.75" fill="#d0f4f4"/>
<circle cx="208.45" cy="162.07" r="0.75" fill="#d0f4f4"/>
<circle cx="210.76" cy="171.29" r="0.75" fill="#d0f4f4"/>
<circle cx="213.07" cy="176.41" r="0.75" fill="#d0f4f4"/>
<circle cx="215.37" cy="179.21" r="0.75" fill="#d0f4f4"/>
<circle cx="217.68" cy="177.32" r="0.75" fill="#d0f4f4"/>
<circle cx="219.98" cy="175.71" r="0.75" fill="#d0f4f4"/>
<circle cx="222.29" cy="174.37" r="0.75" fill="#d0f4f4"/>
<circle cx="224.59" cy="173.96" r="0.75" fill="#d0f4f4"/>
<circle cx="226.90" cy="173.65" r="0.75" fill="#d0f4f4"/>
<circle cx="67.1" cy="74.5" r="3.5" fill="none" stroke="#2b3990" stroke-width="1.4"/>
<circle cx="67.1" cy="88.3" r="3.5" fill="none" stroke="#2a8f8f" stroke-width="1.4"/>
<text x="75.40" y="77.80" font-size="9" text-anchor="start" font-style="italic" fill="#1a1a1a" >WT</text>
<text x="75.40" y="91.60" font-size="9" text-anchor="start" font-style="italic" fill="#1a1a1a" >Aox4<tspan dy="-3" font-size="6.5">-/-</tspan></text>
<path d="M82.90,143.10L82.90,147.50M80.99,144.20L84.81,146.40M84.81,144.20L80.99,146.40" stroke="#666" stroke-width="1.1" fill="none"/>
<path d="M114.40,144.40L114.40,148.80M112.49,145.50L116.31,147.70M116.31,145.50L112.49,147.70" stroke="#666" stroke-width="1.1" fill="none"/>
<path d="M111.80,151.00L111.80,155.40M109.89,152.10L113.71,154.30M113.71,152.10L109.89,154.30" stroke="#666" stroke-width="1.1" fill="none"/>
<path d="M117.10,150.40L117.10,154.80M115.19,151.50L119.01,153.70M119.01,151.50L115.19,153.70" stroke="#666" stroke-width="1.1" fill="none"/>
<path d="M168.50,74.60L168.50,79.00M166.59,75.70L170.41,77.90M170.41,75.70L166.59,77.90" stroke="#666" stroke-width="1.1" fill="none"/>
<path d="M169.90,80.40L169.90,84.80M167.99,81.50L171.81,83.70M171.81,81.50L167.99,83.70" stroke="#666" stroke-width="1.1" fill="none"/>
<path d="M171.40,84.80L171.40,89.20M169.49,85.90L173.31,88.10M173.31,85.90L169.49,88.10" stroke="#666" stroke-width="1.1" fill="none"/>
<path d="M173.60,92.10L173.60,96.50M171.69,93.20L175.51,95.40M175.51,93.20L171.69,95.40" stroke="#666" stroke-width="1.1" fill="none"/>
<path d="M175.00,100.10L175.00,104.50M173.09,101.20L176.91,103.40M176.91,101.20L173.09,103.40" stroke="#666" stroke-width="1.1" fill="none"/>
<path d="M177.20,109.60L177.20,114.00M175.29,110.70L179.11,112.90M179.11,110.70L175.29,112.90" stroke="#666" stroke-width="1.1" fill="none"/>
<path d="M178.70,116.90L178.70,121.30M176.79,118.00L180.61,120.20M180.61,118.00L176.79,120.20" stroke="#666" stroke-width="1.1" fill="none"/>
<path d="M180.10,125.00L180.10,129.40M178.19,126.10L182.01,128.30M182.01,126.10L178.19,128.30" stroke="#666" stroke-width="1.1" fill="none"/>
<path d="M220.30,146.10L220.30,150.50M218.39,147.20L222.21,149.40M222.21,147.20L218.39,149.40" stroke="#666" stroke-width="1.1" fill="none"/>
<path d="M219.60,152.00L219.60,156.40M217.69,153.10L221.51,155.30M221.51,153.10L217.69,155.30" stroke="#666" stroke-width="1.1" fill="none"/>
<rect x="279.60" y="64.50" width="165.30" height="153.10" fill="#fff" stroke="#111" stroke-width="1.3"/>
<line x1="277.10" y1="195.80" x2="279.60" y2="195.80" stroke="#222" stroke-width="1"/>
<text x="275.80" y="199.40" font-size="10" text-anchor="end" fill="#1a1a1a" >150</text>
<line x1="277.10" y1="160.20" x2="279.60" y2="160.20" stroke="#222" stroke-width="1"/>
<text x="275.80" y="163.80" font-size="10" text-anchor="end" fill="#1a1a1a" >200</text>
<line x1="277.10" y1="124.60" x2="279.60" y2="124.60" stroke="#222" stroke-width="1"/>
<text x="275.80" y="128.20" font-size="10" text-anchor="end" fill="#1a1a1a" >250</text>
<line x1="277.10" y1="89.00" x2="279.60" y2="89.00" stroke="#222" stroke-width="1"/>
<text x="275.80" y="92.60" font-size="10" text-anchor="end" fill="#1a1a1a" >300</text>
<line x1="324.70" y1="101.10" x2="324.70" y2="130.30" stroke="#555" stroke-width="1.1"/>
<line x1="324.70" y1="156.64" x2="324.70" y2="189.39" stroke="#555" stroke-width="1.1"/>
<rect x="296.50" y="130.30" width="56.40" height="26.34" fill="#0000f0" stroke="#2a2a3a" stroke-width="1.0"/>
<line x1="297.00" y1="147.38" x2="352.40" y2="147.38" stroke="#2a2f70" stroke-width="2.0"/>
<line x1="399.90" y1="137.42" x2="399.90" y2="162.34" stroke="#555" stroke-width="1.1"/>
<line x1="399.90" y1="194.38" x2="399.90" y2="211.46" stroke="#555" stroke-width="1.1"/>
<rect x="371.70" y="162.34" width="56.40" height="32.04" fill="#3a9bd0" stroke="#2a2a3a" stroke-width="1.0"/>
<line x1="372.20" y1="178.71" x2="427.60" y2="178.71" stroke="#263040" stroke-width="2.0"/>
<line x1="324.70" y1="217.60" x2="324.70" y2="220.00" stroke="#222" stroke-width="1.0"/>
<line x1="399.90" y1="217.60" x2="399.90" y2="220.00" stroke="#222" stroke-width="1.0"/>
<text x="362.60" y="56.30" font-size="12.5" text-anchor="middle" font-weight="bold" fill="#1a1a1a" >Light-phase</text>
<circle cx="325" cy="71.2" r="0.7" fill="#333"/>
<path d="M400.40,127.20L400.40,132.00M398.32,128.40L402.48,130.80M402.48,128.40L398.32,130.80" stroke="#555" stroke-width="1.1" fill="none"/>
<text x="325.70" y="233.50" font-size="10" text-anchor="middle" font-style="italic" fill="#1a1a1a" >WT</text>
<text x="401.00" y="233.50" font-size="10" text-anchor="middle" font-style="italic" fill="#1a1a1a" >Aox4<tspan dy="-3.5" font-size="7">-/-</tspan></text>
<text x="0" y="0" font-size="10" text-anchor="middle" fill="#1a1a1a" transform="translate(253.00,141.00) rotate(-90)">No. events</text>
<rect x="499.70" y="64.50" width="165.80" height="153.10" fill="#fff" stroke="#111" stroke-width="1.3"/>
<line x1="497.20" y1="189.50" x2="499.70" y2="189.50" stroke="#222" stroke-width="1"/>
<text x="495.90" y="195.40" font-size="10" text-anchor="end" fill="#1a1a1a" >300</text>
<line x1="497.20" y1="150.87" x2="499.70" y2="150.87" stroke="#222" stroke-width="1"/>
<text x="495.90" y="156.77" font-size="10" text-anchor="end" fill="#1a1a1a" >400</text>
<line x1="497.20" y1="112.23" x2="499.70" y2="112.23" stroke="#222" stroke-width="1"/>
<text x="495.90" y="118.13" font-size="10" text-anchor="end" fill="#1a1a1a" >500</text>
<line x1="497.20" y1="73.60" x2="499.70" y2="73.60" stroke="#222" stroke-width="1"/>
<text x="495.90" y="79.50" font-size="10" text-anchor="end" fill="#1a1a1a" >600</text>
<line x1="543.95" y1="71.50" x2="543.95" y2="84.60" stroke="#555" stroke-width="1.1"/>
<line x1="543.95" y1="141.40" x2="543.95" y2="210.90" stroke="#555" stroke-width="1.1"/>
<rect x="515.40" y="84.60" width="57.10" height="56.80" fill="#0000f0" stroke="#2a2a3a" stroke-width="1.0"/>
<line x1="515.90" y1="128.30" x2="572.00" y2="128.30" stroke="#2a2f70" stroke-width="2.0"/>
<line x1="619.20" y1="128.60" x2="619.20" y2="141.40" stroke="#555" stroke-width="1.1"/>
<line x1="619.20" y1="181.30" x2="619.20" y2="207.50" stroke="#555" stroke-width="1.1"/>
<rect x="591.00" y="141.40" width="56.40" height="39.90" fill="#3a9bd0" stroke="#2a2a3a" stroke-width="1.0"/>
<line x1="591.50" y1="151.80" x2="646.90" y2="151.80" stroke="#263040" stroke-width="2.0"/>
<line x1="544.00" y1="217.60" x2="544.00" y2="220.00" stroke="#222" stroke-width="1.0"/>
<line x1="619.20" y1="217.60" x2="619.20" y2="220.00" stroke="#222" stroke-width="1.0"/>
<text x="582.00" y="56.30" font-size="12.5" text-anchor="middle" font-weight="bold" fill="#1a1a1a" >Dark-phase</text>
<path d="M619.20,117.60L619.20,122.40M617.12,118.80L621.28,121.20M621.28,118.80L617.12,121.20" stroke="#555" stroke-width="1.1" fill="none"/>
<text x="544.00" y="233.50" font-size="10" text-anchor="middle" font-style="italic" fill="#1a1a1a" >WT</text>
<text x="619.20" y="233.50" font-size="10" text-anchor="middle" font-style="italic" fill="#1a1a1a" >Aox4<tspan dy="-3.5" font-size="7">-/-</tspan></text>
<text x="0" y="0" font-size="10" text-anchor="middle" fill="#1a1a1a" transform="translate(473.40,141.00) rotate(-90)">No. events</text>
<text x="10.80" y="287.40" font-size="22" text-anchor="start" fill="#1a1a1a" >b</text>
<text x="215.50" y="283.30" font-size="17.7" text-anchor="start" font-weight="bold" fill="#1a1a1a" >locomotor activity - male mice</text>
<rect x="618.20" y="269.90" width="10.20" height="9.80" fill="#0000f0" stroke="#1a1a40" stroke-width="0.9"/>
<rect x="618.20" y="286.40" width="10.20" height="9.80" fill="#3a9bd0" stroke="#1a2a3a" stroke-width="0.9"/>
<text x="632.20" y="279.10" font-size="12.7" text-anchor="start" font-style="italic" fill="#1a1a1a" >WT</text>
<text x="632.20" y="295.60" font-size="12.7" text-anchor="start" font-style="italic" fill="#1a1a1a" >Aox4-/-</text>
<text x="145.70" y="316.30" font-size="12.5" text-anchor="middle" font-weight="bold" fill="#1a1a1a" >average daily pattern</text>
<text x="145.70" y="332.50" font-size="12.5" text-anchor="middle" font-weight="bold" fill="#1a1a1a" >(light/dark)</text>
<rect x="56.40" y="338.50" width="180.40" height="133.00" fill="#fff" stroke="#111" stroke-width="1.3"/>
<line x1="53.90" y1="466.30" x2="56.40" y2="466.30" stroke="#222" stroke-width="1"/>
<text x="52.60" y="469.90" font-size="10" text-anchor="end" fill="#1a1a1a" >0</text>
<line x1="53.90" y1="419.80" x2="56.40" y2="419.80" stroke="#222" stroke-width="1"/>
<text x="52.60" y="423.40" font-size="10" text-anchor="end" fill="#1a1a1a" >200</text>
<line x1="53.90" y1="373.30" x2="56.40" y2="373.30" stroke="#222" stroke-width="1"/>
<text x="52.60" y="376.90" font-size="10" text-anchor="end" fill="#1a1a1a" >400</text>
<text x="45.30" y="486.20" font-size="10" text-anchor="middle" fill="#1a1a1a" >ZT</text>
<text x="85.82" y="486.20" font-size="10" text-anchor="middle" fill="#1a1a1a" >4</text>
<text x="128.66" y="486.20" font-size="10" text-anchor="middle" fill="#1a1a1a" >10</text>
<text x="171.50" y="486.20" font-size="10" text-anchor="middle" fill="#1a1a1a" >16</text>
<text x="214.34" y="486.20" font-size="10" text-anchor="middle" fill="#1a1a1a" >22</text>
<line x1="64.40" y1="471.50" x2="64.40" y2="473.00" stroke="#222" stroke-width="1.0"/>
<line x1="71.54" y1="471.50" x2="71.54" y2="474.00" stroke="#222" stroke-width="1.0"/>
<line x1="78.68" y1="471.50" x2="78.68" y2="473.00" stroke="#222" stroke-width="1.0"/>
<line x1="85.82" y1="471.50" x2="85.82" y2="474.00" stroke="#222" stroke-width="1.0"/>
<line x1="92.96" y1="471.50" x2="92.96" y2="473.00" stroke="#222" stroke-width="1.0"/>
<line x1="100.10" y1="471.50" x2="100.10" y2="474.00" stroke="#222" stroke-width="1.0"/>
<line x1="107.24" y1="471.50" x2="107.24" y2="473.00" stroke="#222" stroke-width="1.0"/>
<line x1="114.38" y1="471.50" x2="114.38" y2="474.00" stroke="#222" stroke-width="1.0"/>
<line x1="121.52" y1="471.50" x2="121.52" y2="473.00" stroke="#222" stroke-width="1.0"/>
<line x1="128.66" y1="471.50" x2="128.66" y2="474.00" stroke="#222" stroke-width="1.0"/>
<line x1="135.80" y1="471.50" x2="135.80" y2="473.00" stroke="#222" stroke-width="1.0"/>
<line x1="142.94" y1="471.50" x2="142.94" y2="474.00" stroke="#222" stroke-width="1.0"/>
<line x1="150.08" y1="471.50" x2="150.08" y2="473.00" stroke="#222" stroke-width="1.0"/>
<line x1="157.22" y1="471.50" x2="157.22" y2="474.00" stroke="#222" stroke-width="1.0"/>
<line x1="164.36" y1="471.50" x2="164.36" y2="473.00" stroke="#222" stroke-width="1.0"/>
<line x1="171.50" y1="471.50" x2="171.50" y2="474.00" stroke="#222" stroke-width="1.0"/>
<line x1="178.64" y1="471.50" x2="178.64" y2="473.00" stroke="#222" stroke-width="1.0"/>
<line x1="185.78" y1="471.50" x2="185.78" y2="474.00" stroke="#222" stroke-width="1.0"/>
<line x1="192.92" y1="471.50" x2="192.92" y2="473.00" stroke="#222" stroke-width="1.0"/>
<line x1="200.06" y1="471.50" x2="200.06" y2="474.00" stroke="#222" stroke-width="1.0"/>
<line x1="207.20" y1="471.50" x2="207.20" y2="473.00" stroke="#222" stroke-width="1.0"/>
<line x1="214.34" y1="471.50" x2="214.34" y2="474.00" stroke="#222" stroke-width="1.0"/>
<line x1="221.48" y1="471.50" x2="221.48" y2="473.00" stroke="#222" stroke-width="1.0"/>
<line x1="228.62" y1="471.50" x2="228.62" y2="474.00" stroke="#222" stroke-width="1.0"/>
<rect x="64.20" y="490.30" width="169.80" height="8.50" fill="#fff" stroke="#222" stroke-width="1.0"/>
<rect x="143.70" y="490.30" width="85.10" height="8.50" fill="#000"/>
<text x="0" y="0" font-size="10" text-anchor="middle" fill="#1a1a1a" transform="translate(28.30,405.80) rotate(-90)">No. events</text>
<line x1="64.40" y1="432.41" x2="64.40" y2="448.41" stroke="#333" stroke-width="1.4"/>
<line x1="64.40" y1="439.40" x2="64.40" y2="451.40" stroke="#333" stroke-width="1.4"/>
<line x1="71.54" y1="431.19" x2="71.54" y2="445.19" stroke="#333" stroke-width="1.4"/>
<line x1="71.54" y1="434.60" x2="71.54" y2="445.10" stroke="#333" stroke-width="1.4"/>
<line x1="78.68" y1="426.47" x2="78.68" y2="440.47" stroke="#333" stroke-width="1.4"/>
<line x1="78.68" y1="435.16" x2="78.68" y2="445.66" stroke="#333" stroke-width="1.4"/>
<line x1="85.82" y1="423.15" x2="85.82" y2="437.15" stroke="#333" stroke-width="1.4"/>
<line x1="85.82" y1="428.22" x2="85.82" y2="438.72" stroke="#333" stroke-width="1.4"/>
<line x1="92.96" y1="432.85" x2="92.96" y2="446.85" stroke="#333" stroke-width="1.4"/>
<line x1="92.96" y1="424.62" x2="92.96" y2="435.12" stroke="#333" stroke-width="1.4"/>
<line x1="100.10" y1="420.37" x2="100.10" y2="434.37" stroke="#333" stroke-width="1.4"/>
<line x1="100.10" y1="431.83" x2="100.10" y2="442.33" stroke="#333" stroke-width="1.4"/>
<line x1="107.24" y1="424.64" x2="107.24" y2="440.64" stroke="#333" stroke-width="1.4"/>
<line x1="107.24" y1="426.64" x2="107.24" y2="438.64" stroke="#333" stroke-width="1.4"/>
<line x1="114.38" y1="425.53" x2="114.38" y2="437.53" stroke="#333" stroke-width="1.4"/>
<line x1="114.38" y1="428.14" x2="114.38" y2="437.14" stroke="#333" stroke-width="1.4"/>
<line x1="121.52" y1="424.70" x2="121.52" y2="436.70" stroke="#333" stroke-width="1.4"/>
<line x1="121.52" y1="427.03" x2="121.52" y2="436.03" stroke="#333" stroke-width="1.4"/>
<line x1="128.66" y1="422.76" x2="128.66" y2="434.76" stroke="#333" stroke-width="1.4"/>
<line x1="128.66" y1="426.20" x2="128.66" y2="435.20" stroke="#333" stroke-width="1.4"/>
<line x1="135.80" y1="394.19" x2="135.80" y2="406.19" stroke="#333" stroke-width="1.4"/>
<line x1="135.80" y1="403.18" x2="135.80" y2="412.18" stroke="#333" stroke-width="1.4"/>
<line x1="142.94" y1="342.20" x2="142.94" y2="362.20" stroke="#333" stroke-width="1.4"/>
<line x1="142.94" y1="353.02" x2="142.94" y2="368.02" stroke="#333" stroke-width="1.4"/>
<line x1="150.08" y1="343.03" x2="150.08" y2="363.03" stroke="#333" stroke-width="1.4"/>
<line x1="150.08" y1="353.85" x2="150.08" y2="368.85" stroke="#333" stroke-width="1.4"/>
<line x1="157.22" y1="357.90" x2="157.22" y2="375.90" stroke="#333" stroke-width="1.4"/>
<line x1="157.22" y1="369.86" x2="157.22" y2="383.36" stroke="#333" stroke-width="1.4"/>
<line x1="164.36" y1="353.91" x2="164.36" y2="369.91" stroke="#333" stroke-width="1.4"/>
<line x1="164.36" y1="383.92" x2="164.36" y2="395.92" stroke="#333" stroke-width="1.4"/>
<line x1="171.50" y1="355.74" x2="171.50" y2="369.74" stroke="#333" stroke-width="1.4"/>
<line x1="171.50" y1="378.85" x2="171.50" y2="389.35" stroke="#333" stroke-width="1.4"/>
<line x1="178.64" y1="380.32" x2="178.64" y2="392.32" stroke="#333" stroke-width="1.4"/>
<line x1="178.64" y1="383.20" x2="178.64" y2="392.20" stroke="#333" stroke-width="1.4"/>
<line x1="185.78" y1="381.15" x2="185.78" y2="393.15" stroke="#333" stroke-width="1.4"/>
<line x1="185.78" y1="404.01" x2="185.78" y2="413.01" stroke="#333" stroke-width="1.4"/>
<line x1="192.92" y1="401.68" x2="192.92" y2="413.68" stroke="#333" stroke-width="1.4"/>
<line x1="192.92" y1="399.29" x2="192.92" y2="408.29" stroke="#333" stroke-width="1.4"/>
<line x1="200.06" y1="395.02" x2="200.06" y2="407.02" stroke="#333" stroke-width="1.4"/>
<line x1="200.06" y1="413.16" x2="200.06" y2="422.16" stroke="#333" stroke-width="1.4"/>
<line x1="207.20" y1="380.32" x2="207.20" y2="392.32" stroke="#333" stroke-width="1.4"/>
<line x1="207.20" y1="384.59" x2="207.20" y2="393.59" stroke="#333" stroke-width="1.4"/>
<line x1="214.34" y1="343.97" x2="214.34" y2="375.97" stroke="#333" stroke-width="1.4"/>
<line x1="214.34" y1="360.45" x2="214.34" y2="384.45" stroke="#333" stroke-width="1.4"/>
<line x1="221.48" y1="343.41" x2="221.48" y2="375.41" stroke="#333" stroke-width="1.4"/>
<line x1="221.48" y1="375.15" x2="221.48" y2="399.15" stroke="#333" stroke-width="1.4"/>
<line x1="228.62" y1="406.22" x2="228.62" y2="430.22" stroke="#333" stroke-width="1.4"/>
<line x1="228.62" y1="427.25" x2="228.62" y2="445.25" stroke="#333" stroke-width="1.4"/>
<polyline points="64.40,445.40 71.54,439.85 78.68,440.41 85.82,433.47 92.96,429.87 100.10,437.08 107.24,432.64 114.38,432.64 121.52,431.53 128.66,430.70 135.80,407.68 142.94,360.52 150.08,361.35 157.22,376.61 164.36,389.92 171.50,384.10 178.64,387.70 185.78,408.51 192.92,403.79 200.06,417.66 207.20,389.09 214.34,372.45 221.48,387.15 228.62,436.25" fill="none" stroke="#2aa0c8" stroke-width="1.7" stroke-linejoin="round" />
<polyline points="64.40,440.41 71.54,438.19 78.68,433.47 85.82,430.15 92.96,439.85 100.10,427.37 107.24,432.64 114.38,431.53 121.52,430.70 128.66,428.76 135.80,400.19 142.94,352.20 150.08,353.03 157.22,366.90 164.36,361.91 171.50,362.74 178.64,386.32 185.78,387.15 192.92,407.68 200.06,401.02 207.20,386.32 214.34,359.97 221.48,359.41 228.62,418.22" fill="none" stroke="#1f3590" stroke-width="1.7" stroke-linejoin="round" />
<circle cx="64.40" cy="440.41" r="1.2" fill="#dfe6ff" stroke="#1f3590" stroke-width="0.6"/>
<circle cx="71.54" cy="438.19" r="1.2" fill="#dfe6ff" stroke="#1f3590" stroke-width="0.6"/>
<circle cx="78.68" cy="433.47" r="1.2" fill="#dfe6ff" stroke="#1f3590" stroke-width="0.6"/>
<circle cx="85.82" cy="430.15" r="1.2" fill="#dfe6ff" stroke="#1f3590" stroke-width="0.6"/>
<circle cx="92.96" cy="439.85" r="1.2" fill="#dfe6ff" stroke="#1f3590" stroke-width="0.6"/>
<circle cx="100.10" cy="427.37" r="1.2" fill="#dfe6ff" stroke="#1f3590" stroke-width="0.6"/>
<circle cx="107.24" cy="432.64" r="1.2" fill="#dfe6ff" stroke="#1f3590" stroke-width="0.6"/>
<circle cx="114.38" cy="431.53" r="1.2" fill="#dfe6ff" stroke="#1f3590" stroke-width="0.6"/>
<circle cx="121.52" cy="430.70" r="1.2" fill="#dfe6ff" stroke="#1f3590" stroke-width="0.6"/>
<circle cx="128.66" cy="428.76" r="1.2" fill="#dfe6ff" stroke="#1f3590" stroke-width="0.6"/>
<circle cx="135.80" cy="400.19" r="1.2" fill="#dfe6ff" stroke="#1f3590" stroke-width="0.6"/>
<circle cx="142.94" cy="352.20" r="1.2" fill="#dfe6ff" stroke="#1f3590" stroke-width="0.6"/>
<circle cx="150.08" cy="353.03" r="1.2" fill="#dfe6ff" stroke="#1f3590" stroke-width="0.6"/>
<circle cx="157.22" cy="366.90" r="1.2" fill="#dfe6ff" stroke="#1f3590" stroke-width="0.6"/>
<circle cx="164.36" cy="361.91" r="1.2" fill="#dfe6ff" stroke="#1f3590" stroke-width="0.6"/>
<circle cx="171.50" cy="362.74" r="1.2" fill="#dfe6ff" stroke="#1f3590" stroke-width="0.6"/>
<circle cx="178.64" cy="386.32" r="1.2" fill="#dfe6ff" stroke="#1f3590" stroke-width="0.6"/>
<circle cx="185.78" cy="387.15" r="1.2" fill="#dfe6ff" stroke="#1f3590" stroke-width="0.6"/>
<circle cx="192.92" cy="407.68" r="1.2" fill="#dfe6ff" stroke="#1f3590" stroke-width="0.6"/>
<circle cx="200.06" cy="401.02" r="1.2" fill="#dfe6ff" stroke="#1f3590" stroke-width="0.6"/>
<circle cx="207.20" cy="386.32" r="1.2" fill="#dfe6ff" stroke="#1f3590" stroke-width="0.6"/>
<circle cx="214.34" cy="359.97" r="1.2" fill="#dfe6ff" stroke="#1f3590" stroke-width="0.6"/>
<circle cx="221.48" cy="359.41" r="1.2" fill="#dfe6ff" stroke="#1f3590" stroke-width="0.6"/>
<circle cx="228.62" cy="418.22" r="1.2" fill="#dfe6ff" stroke="#1f3590" stroke-width="0.6"/>
<circle cx="64.40" cy="445.40" r="1.2" fill="#dff6ff" stroke="#2aa0c8" stroke-width="0.6"/>
<circle cx="71.54" cy="439.85" r="1.2" fill="#dff6ff" stroke="#2aa0c8" stroke-width="0.6"/>
<circle cx="78.68" cy="440.41" r="1.2" fill="#dff6ff" stroke="#2aa0c8" stroke-width="0.6"/>
<circle cx="85.82" cy="433.47" r="1.2" fill="#dff6ff" stroke="#2aa0c8" stroke-width="0.6"/>
<circle cx="92.96" cy="429.87" r="1.2" fill="#dff6ff" stroke="#2aa0c8" stroke-width="0.6"/>
<circle cx="100.10" cy="437.08" r="1.2" fill="#dff6ff" stroke="#2aa0c8" stroke-width="0.6"/>
<circle cx="107.24" cy="432.64" r="1.2" fill="#dff6ff" stroke="#2aa0c8" stroke-width="0.6"/>
<circle cx="114.38" cy="432.64" r="1.2" fill="#dff6ff" stroke="#2aa0c8" stroke-width="0.6"/>
<circle cx="121.52" cy="431.53" r="1.2" fill="#dff6ff" stroke="#2aa0c8" stroke-width="0.6"/>
<circle cx="128.66" cy="430.70" r="1.2" fill="#dff6ff" stroke="#2aa0c8" stroke-width="0.6"/>
<circle cx="135.80" cy="407.68" r="1.2" fill="#dff6ff" stroke="#2aa0c8" stroke-width="0.6"/>
<circle cx="142.94" cy="360.52" r="1.2" fill="#dff6ff" stroke="#2aa0c8" stroke-width="0.6"/>
<circle cx="150.08" cy="361.35" r="1.2" fill="#dff6ff" stroke="#2aa0c8" stroke-width="0.6"/>
<circle cx="157.22" cy="376.61" r="1.2" fill="#dff6ff" stroke="#2aa0c8" stroke-width="0.6"/>
<circle cx="164.36" cy="389.92" r="1.2" fill="#dff6ff" stroke="#2aa0c8" stroke-width="0.6"/>
<circle cx="171.50" cy="384.10" r="1.2" fill="#dff6ff" stroke="#2aa0c8" stroke-width="0.6"/>
<circle cx="178.64" cy="387.70" r="1.2" fill="#dff6ff" stroke="#2aa0c8" stroke-width="0.6"/>
<circle cx="185.78" cy="408.51" r="1.2" fill="#dff6ff" stroke="#2aa0c8" stroke-width="0.6"/>
<circle cx="192.92" cy="403.79" r="1.2" fill="#dff6ff" stroke="#2aa0c8" stroke-width="0.6"/>
<circle cx="200.06" cy="417.66" r="1.2" fill="#dff6ff" stroke="#2aa0c8" stroke-width="0.6"/>
<circle cx="207.20" cy="389.09" r="1.2" fill="#dff6ff" stroke="#2aa0c8" stroke-width="0.6"/>
<circle cx="214.34" cy="372.45" r="1.2" fill="#dff6ff" stroke="#2aa0c8" stroke-width="0.6"/>
<circle cx="221.48" cy="387.15" r="1.2" fill="#dff6ff" stroke="#2aa0c8" stroke-width="0.6"/>
<circle cx="228.62" cy="436.25" r="1.2" fill="#dff6ff" stroke="#2aa0c8" stroke-width="0.6"/>
<circle cx="66.9" cy="351.7" r="3.6" fill="none" stroke="#1f3590" stroke-width="1.4"/>
<circle cx="66.9" cy="365.6" r="3.6" fill="none" stroke="#1f9aa8" stroke-width="1.4"/>
<text x="75.00" y="355.30" font-size="9.5" text-anchor="start" font-style="italic" fill="#1a1a1a" >WT</text>
<text x="75.00" y="369.20" font-size="9.5" text-anchor="start" font-style="italic" fill="#1a1a1a" >Aox4<tspan dy="-3" font-size="7">-/-</tspan></text>
<path d="M163.60,346.10L163.60,350.50M161.69,347.20L165.51,349.40M165.51,347.20L161.69,349.40" stroke="#666" stroke-width="1.1" fill="none"/>
<path d="M171.00,355.80L171.00,360.20M169.09,356.90L172.91,359.10M172.91,356.90L169.09,359.10" stroke="#666" stroke-width="1.1" fill="none"/>
<path d="M185.60,376.30L185.60,380.70M183.69,377.40L187.51,379.60M187.51,377.40L183.69,379.60" stroke="#666" stroke-width="1.1" fill="none"/>
<path d="M199.60,388.40L199.60,392.80M197.69,389.50L201.51,391.70M201.51,389.50L197.69,391.70" stroke="#666" stroke-width="1.1" fill="none"/>
<rect x="283.00" y="340.20" width="107.00" height="132.40" fill="#fff" stroke="#111" stroke-width="1.3"/>
<line x1="279.00" y1="469.20" x2="283.00" y2="469.20" stroke="#222" stroke-width="1"/>
<text x="275.70" y="472.80" font-size="10" text-anchor="end" fill="#1a1a1a" >160</text>
<line x1="279.00" y1="431.23" x2="283.00" y2="431.23" stroke="#222" stroke-width="1"/>
<text x="275.70" y="434.83" font-size="10" text-anchor="end" fill="#1a1a1a" >180</text>
<line x1="279.00" y1="393.27" x2="283.00" y2="393.27" stroke="#222" stroke-width="1"/>
<text x="275.70" y="396.87" font-size="10" text-anchor="end" fill="#1a1a1a" >200</text>
<line x1="279.00" y1="355.30" x2="283.00" y2="355.30" stroke="#222" stroke-width="1"/>
<text x="275.70" y="358.90" font-size="10" text-anchor="end" fill="#1a1a1a" >220</text>
<line x1="312.40" y1="345.80" x2="312.40" y2="371.40" stroke="#555" stroke-width="1.1"/>
<line x1="312.40" y1="429.60" x2="312.40" y2="446.50" stroke="#555" stroke-width="1.1"/>
<rect x="294.30" y="371.40" width="36.20" height="58.20" fill="#0000f0" stroke="#2a2a3a" stroke-width="1.0"/>
<line x1="294.80" y1="413.30" x2="330.00" y2="413.30" stroke="#3a3a90" stroke-width="2.0"/>
<line x1="360.85" y1="414.90" x2="360.85" y2="428.40" stroke="#555" stroke-width="1.1"/>
<line x1="360.85" y1="464.00" x2="360.85" y2="466.20" stroke="#555" stroke-width="1.1"/>
<rect x="343.00" y="428.40" width="35.70" height="35.60" fill="#3a9bd0" stroke="#2a2a3a" stroke-width="1.0"/>
<line x1="343.50" y1="458.30" x2="378.20" y2="458.30" stroke="#263040" stroke-width="2.0"/>
<line x1="312.40" y1="472.60" x2="312.40" y2="475.00" stroke="#222" stroke-width="1.0"/>
<line x1="360.90" y1="472.60" x2="360.90" y2="475.00" stroke="#222" stroke-width="1.0"/>
<text x="336.80" y="315.50" font-size="12.5" text-anchor="middle" font-weight="bold" fill="#1a1a1a" >light/dark</text>
<text x="336.80" y="331.20" font-size="12.5" text-anchor="middle" font-weight="bold" fill="#1a1a1a" >(6 days)</text>
<path d="M359.50,403.40L359.50,408.20M357.42,404.60L361.58,407.00M361.58,404.60L357.42,407.00" stroke="#555" stroke-width="1.1" fill="none"/>
<text x="311.30" y="487.50" font-size="10" text-anchor="middle" font-style="italic" fill="#1a1a1a" >WT</text>
<text x="359.90" y="487.50" font-size="10" text-anchor="middle" font-style="italic" fill="#1a1a1a" >Aox4<tspan dy="-3.5" font-size="7">-/-</tspan></text>
<text x="0" y="0" font-size="10" text-anchor="middle" fill="#1a1a1a" transform="translate(250.50,411.80) rotate(-90)">Σ events (x1000)</text>
<rect x="422.50" y="343.10" width="106.50" height="131.50" fill="#fff" stroke="#111" stroke-width="1.3"/>
<line x1="418.20" y1="471.40" x2="422.50" y2="471.40" stroke="#222" stroke-width="1"/>
<text x="415.20" y="475.00" font-size="10" text-anchor="end" fill="#1a1a1a" >150</text>
<line x1="418.20" y1="441.88" x2="422.50" y2="441.88" stroke="#222" stroke-width="1"/>
<text x="415.20" y="445.48" font-size="10" text-anchor="end" fill="#1a1a1a" >175</text>
<line x1="418.20" y1="412.35" x2="422.50" y2="412.35" stroke="#222" stroke-width="1"/>
<text x="415.20" y="415.95" font-size="10" text-anchor="end" fill="#1a1a1a" >200</text>
<line x1="418.20" y1="382.82" x2="422.50" y2="382.82" stroke="#222" stroke-width="1"/>
<text x="415.20" y="386.43" font-size="10" text-anchor="end" fill="#1a1a1a" >225</text>
<line x1="418.20" y1="353.30" x2="422.50" y2="353.30" stroke="#222" stroke-width="1"/>
<text x="415.20" y="356.90" font-size="10" text-anchor="end" fill="#1a1a1a" >250</text>
<line x1="451.80" y1="349.00" x2="451.80" y2="361.30" stroke="#555" stroke-width="1.1"/>
<line x1="451.80" y1="428.00" x2="451.80" y2="444.30" stroke="#555" stroke-width="1.1"/>
<rect x="433.50" y="361.30" width="36.60" height="66.70" fill="#0000f0" stroke="#2a2a3a" stroke-width="1.0"/>
<line x1="434.00" y1="405.80" x2="469.60" y2="405.80" stroke="#2a2f70" stroke-width="2.0"/>
<line x1="500.60" y1="435.80" x2="500.60" y2="442.20" stroke="#555" stroke-width="1.1"/>
<line x1="500.60" y1="457.60" x2="500.60" y2="468.70" stroke="#555" stroke-width="1.1"/>
<rect x="482.40" y="442.20" width="36.40" height="15.40" fill="#3a9bd0" stroke="#2a2a3a" stroke-width="1.0"/>
<line x1="482.90" y1="450.00" x2="518.30" y2="450.00" stroke="#263040" stroke-width="2.0"/>
<line x1="451.80" y1="474.60" x2="451.80" y2="477.00" stroke="#222" stroke-width="1.0"/>
<line x1="500.60" y1="474.60" x2="500.60" y2="477.00" stroke="#222" stroke-width="1.0"/>
<text x="474.80" y="315.50" font-size="12.5" text-anchor="middle" font-weight="bold" fill="#1a1a1a" >total darkness</text>
<text x="474.80" y="331.20" font-size="12.5" text-anchor="middle" font-weight="bold" fill="#1a1a1a" >(6 days)</text>
<path d="M499.10,423.90L499.10,428.70M497.02,425.10L501.18,427.50M501.18,425.10L497.02,427.50" stroke="#555" stroke-width="1.1" fill="none"/>
<text x="451.10" y="490.50" font-size="10" text-anchor="middle" font-style="italic" fill="#1a1a1a" >WT</text>
<text x="500.60" y="490.50" font-size="10" text-anchor="middle" font-style="italic" fill="#1a1a1a" >Aox4<tspan dy="-3.5" font-size="7">-/-</tspan></text>
<rect x="565.00" y="339.90" width="105.20" height="132.40" fill="#fff" stroke="#111" stroke-width="1.3"/>
<line x1="561.20" y1="453.20" x2="565.00" y2="453.20" stroke="#222" stroke-width="1"/>
<text x="559.00" y="456.80" font-size="10" text-anchor="end" fill="#1a1a1a" >1200</text>
<line x1="561.20" y1="416.50" x2="565.00" y2="416.50" stroke="#222" stroke-width="1"/>
<text x="559.00" y="420.10" font-size="10" text-anchor="end" fill="#1a1a1a" >1400</text>
<line x1="561.20" y1="379.80" x2="565.00" y2="379.80" stroke="#222" stroke-width="1"/>
<text x="559.00" y="383.40" font-size="10" text-anchor="end" fill="#1a1a1a" >1600</text>
<line x1="561.20" y1="343.10" x2="565.00" y2="343.10" stroke="#222" stroke-width="1"/>
<text x="559.00" y="346.70" font-size="10" text-anchor="end" fill="#1a1a1a" >1800</text>
<line x1="593.55" y1="345.90" x2="593.55" y2="364.90" stroke="#555" stroke-width="1.1"/>
<line x1="593.55" y1="417.40" x2="593.55" y2="432.70" stroke="#555" stroke-width="1.1"/>
<rect x="575.60" y="364.90" width="35.90" height="52.50" fill="#0000f0" stroke="#2a2a3a" stroke-width="1.0"/>
<line x1="576.10" y1="397.10" x2="611.00" y2="397.10" stroke="#3a3a90" stroke-width="2.0"/>
<line x1="641.40" y1="443.30" x2="641.40" y2="446.00" stroke="#555" stroke-width="1.1"/>
<line x1="641.40" y1="450.20" x2="641.40" y2="450.20" stroke="#555" stroke-width="1.1"/>
<rect x="623.20" y="446.00" width="36.40" height="4.20" fill="#3a85a8" stroke="#2a2a3a" stroke-width="1.0"/>
<line x1="623.70" y1="448.10" x2="659.10" y2="448.10" stroke="#2a5a70" stroke-width="2.0"/>
<line x1="593.50" y1="472.30" x2="593.50" y2="474.70" stroke="#222" stroke-width="1.0"/>
<line x1="641.40" y1="472.30" x2="641.40" y2="474.70" stroke="#222" stroke-width="1.0"/>
<text x="615.20" y="315.50" font-size="12.5" text-anchor="middle" font-weight="bold" fill="#1a1a1a" >total darkness</text>
<text x="615.20" y="331.20" font-size="12.5" text-anchor="middle" font-weight="bold" fill="#1a1a1a" >(6 weeks)</text>
<circle cx="641.6" cy="466.5" r="0.7" fill="#333"/>
<path d="M638.60,434.50L638.60,439.30M636.52,435.70L640.68,438.10M640.68,435.70L636.52,438.10" stroke="#555" stroke-width="1.1" fill="none"/>
<path d="M644.60,434.50L644.60,439.30M642.52,435.70L646.68,438.10M646.68,435.70L642.52,438.10" stroke="#555" stroke-width="1.1" fill="none"/>
<text x="593.30" y="487.60" font-size="10" text-anchor="middle" font-style="italic" fill="#1a1a1a" >WT</text>
<text x="641.40" y="487.60" font-size="10" text-anchor="middle" font-style="italic" fill="#1a1a1a" >Aox4<tspan dy="-3.5" font-size="7">-/-</tspan></text>
<text x="10.80" y="541.60" font-size="22" text-anchor="start" fill="#1a1a1a" >c</text>
<rect x="52.60" y="556.50" width="180.10" height="153.70" fill="#fff" stroke="#111" stroke-width="1.3"/>
<text x="143.20" y="544.00" font-size="12.5" text-anchor="middle" font-weight="bold" fill="#1a1a1a" >female mice (14 weeks)</text>
<line x1="48.10" y1="563.80" x2="52.60" y2="563.80" stroke="#222" stroke-width="1"/>
<text x="45.60" y="568.20" font-size="12.3" text-anchor="end" fill="#1a1a1a" >1.0</text>
<line x1="48.10" y1="616.20" x2="52.60" y2="616.20" stroke="#222" stroke-width="1"/>
<text x="45.60" y="620.60" font-size="12.3" text-anchor="end" fill="#1a1a1a" >0.8</text>
<line x1="48.10" y1="668.80" x2="52.60" y2="668.80" stroke="#222" stroke-width="1"/>
<text x="45.60" y="673.20" font-size="12.3" text-anchor="end" fill="#1a1a1a" >0.6</text>
<line x1="61.30" y1="710.20" x2="61.30" y2="713.20" stroke="#222" stroke-width="1.0"/>
<text x="61.30" y="727.50" font-size="12" text-anchor="middle" fill="#1a1a1a" >0</text>
<line x1="106.20" y1="710.20" x2="106.20" y2="713.20" stroke="#222" stroke-width="1.0"/>
<text x="106.20" y="727.50" font-size="12" text-anchor="middle" fill="#1a1a1a" >50</text>
<line x1="151.10" y1="710.20" x2="151.10" y2="713.20" stroke="#222" stroke-width="1.0"/>
<text x="151.10" y="727.50" font-size="12" text-anchor="middle" fill="#1a1a1a" >100</text>
<line x1="196.00" y1="710.20" x2="196.00" y2="713.20" stroke="#222" stroke-width="1.0"/>
<text x="196.00" y="727.50" font-size="12" text-anchor="middle" fill="#1a1a1a" >150</text>
<polyline points="61.00,564.00 85.30,564.00 85.30,568.40 95.50,568.40 95.50,571.30 98.40,571.30 98.40,575.00 101.30,575.00 101.30,581.50 143.60,581.50 143.60,583.80 161.20,583.80 161.20,587.30 172.80,587.30 172.80,589.40 187.40,589.40 187.40,592.60 205.00,592.60 205.00,595.20 224.00,595.20 224.00,595.20" fill="none" stroke="#3399cc" stroke-width="2.0" stroke-linejoin="round" />
<polyline points="61.00,564.00 85.30,564.00 85.30,566.30 95.50,566.30 95.50,568.40 98.40,568.40 98.40,572.20 105.70,572.20 105.70,580.90 140.70,580.90 140.70,583.50 158.20,583.50 158.20,587.30 164.10,587.30 164.10,589.70 196.20,589.70 196.20,595.20 224.00,595.20 224.00,595.20" fill="none" stroke="#1a1acc" stroke-width="2.0" stroke-linejoin="round" />
<text x="106.90" y="573.50" font-size="12.4" text-anchor="start" font-style="italic" fill="#1a1a1a" >WT</text>
<text x="55.50" y="588.50" font-size="12.4" text-anchor="start" font-style="italic" fill="#1a1a1a" >Aox4-/-</text>
<text x="64.80" y="704.80" font-size="12.3" text-anchor="start" font-weight="bold" fill="#111" >p= 0.982</text>
<text x="0" y="0" font-size="12" text-anchor="middle" fill="#1a1a1a" transform="translate(18.50,644.90) rotate(-90)">Average score</text>
<rect x="268.30" y="555.20" width="179.60" height="153.90" fill="#fff" stroke="#111" stroke-width="1.3"/>
<text x="357.80" y="544.00" font-size="12.5" text-anchor="middle" font-weight="bold" fill="#1a1a1a" >male mice&#160; (7 weeks)</text>
<line x1="263.80" y1="563.00" x2="268.30" y2="563.00" stroke="#222" stroke-width="1"/>
<text x="261.30" y="567.40" font-size="12.3" text-anchor="end" fill="#1a1a1a" >1.0</text>
<line x1="263.80" y1="614.80" x2="268.30" y2="614.80" stroke="#222" stroke-width="1"/>
<text x="261.30" y="619.20" font-size="12.3" text-anchor="end" fill="#1a1a1a" >0.8</text>
<line x1="263.80" y1="667.80" x2="268.30" y2="667.80" stroke="#222" stroke-width="1"/>
<text x="261.30" y="672.20" font-size="12.3" text-anchor="end" fill="#1a1a1a" >0.6</text>
<line x1="276.00" y1="709.10" x2="276.00" y2="712.10" stroke="#222" stroke-width="1.0"/>
<text x="276.00" y="727.50" font-size="12" text-anchor="middle" fill="#1a1a1a" >0</text>
<line x1="321.60" y1="709.10" x2="321.60" y2="712.10" stroke="#222" stroke-width="1.0"/>
<text x="322.10" y="727.50" font-size="12" text-anchor="middle" fill="#1a1a1a" >50</text>
<line x1="367.20" y1="709.10" x2="367.20" y2="712.10" stroke="#222" stroke-width="1.0"/>
<text x="370.20" y="727.50" font-size="12" text-anchor="middle" fill="#1a1a1a" >100</text>
<line x1="412.80" y1="709.10" x2="412.80" y2="712.10" stroke="#222" stroke-width="1.0"/>
<text x="417.30" y="727.50" font-size="12" text-anchor="middle" fill="#1a1a1a" >150</text>
<polyline points="276.10,561.90 301.10,561.90 301.10,566.60 309.40,566.60 309.40,569.40 313.50,569.40 313.50,573.60 317.70,573.60 317.70,577.70 320.50,577.70 320.50,581.30 323.30,581.30 323.30,585.50 359.30,585.50 359.30,588.30 371.80,588.30 371.80,591.60 376.00,591.60 376.00,594.40 384.30,594.40 384.30,597.20 407.90,597.20 407.90,602.70 423.10,602.70 423.10,606.90 424.50,606.90 424.50,612.40 426.70,612.40 426.70,616.60 430.00,616.60 430.00,620.70 434.20,620.70 434.20,624.30 439.20,624.30 439.20,626.30" fill="none" stroke="#3399cc" stroke-width="2.0" stroke-linejoin="round" />
<polyline points="276.10,561.90 301.10,561.90 301.10,564.70 312.20,564.70 312.20,568.00 324.60,568.00 324.60,570.80 357.90,570.80 357.90,573.60 416.20,573.60 416.20,577.70 419.00,577.70 419.00,581.10 423.10,581.10 423.10,585.50 434.20,585.50 434.20,591.10 439.20,591.10 439.20,591.10" fill="none" stroke="#1a1acc" stroke-width="2.0" stroke-linejoin="round" />
<text x="380.10" y="569.40" font-size="12.4" text-anchor="start" font-style="italic" fill="#1a1a1a" >WT</text>
<text x="352.40" y="618.00" font-size="12.4" text-anchor="start" font-style="italic" fill="#1a1a1a" >Aox4-/-</text>
<text x="276.00" y="703.50" font-size="12.3" text-anchor="start" font-weight="bold" fill="#e0282e" >p= 0.0185</text>
<text x="356.70" y="742.30" font-size="12" text-anchor="middle" fill="#1a1a1a" >Time (sec)</text>
<rect x="481.50" y="554.40" width="180.10" height="154.40" fill="#fff" stroke="#111" stroke-width="1.3"/>
<text x="569.00" y="544.00" font-size="12.5" text-anchor="middle" font-weight="bold" fill="#1a1a1a" >male mice (14 weeks)</text>
<line x1="477.00" y1="562.00" x2="481.50" y2="562.00" stroke="#222" stroke-width="1"/>
<text x="474.50" y="566.40" font-size="12.3" text-anchor="end" fill="#1a1a1a" >1.0</text>
<line x1="477.00" y1="614.10" x2="481.50" y2="614.10" stroke="#222" stroke-width="1"/>
<text x="474.50" y="618.50" font-size="12.3" text-anchor="end" fill="#1a1a1a" >0.8</text>
<line x1="477.00" y1="666.80" x2="481.50" y2="666.80" stroke="#222" stroke-width="1"/>
<text x="474.50" y="671.20" font-size="12.3" text-anchor="end" fill="#1a1a1a" >0.6</text>
<line x1="490.60" y1="708.80" x2="490.60" y2="711.80" stroke="#222" stroke-width="1.0"/>
<text x="491.40" y="727.50" font-size="12" text-anchor="middle" fill="#1a1a1a" >0</text>
<line x1="535.90" y1="708.80" x2="535.90" y2="711.80" stroke="#222" stroke-width="1.0"/>
<text x="536.70" y="727.50" font-size="12" text-anchor="middle" fill="#1a1a1a" >50</text>
<line x1="581.20" y1="708.80" x2="581.20" y2="711.80" stroke="#222" stroke-width="1.0"/>
<text x="582.70" y="727.50" font-size="12" text-anchor="middle" fill="#1a1a1a" >100</text>
<line x1="626.50" y1="708.80" x2="626.50" y2="711.80" stroke="#222" stroke-width="1.0"/>
<text x="627.30" y="727.50" font-size="12" text-anchor="middle" fill="#1a1a1a" >150</text>
<polyline points="490.48,561.65 526.54,561.65 526.54,565.26 532.09,565.26 532.09,569.42 540.41,569.42 540.41,573.58 544.57,573.58 544.57,577.74 566.77,577.74 566.77,579.13 569.54,579.13 569.54,586.06 572.31,586.06 572.31,591.61 575.09,591.61 575.09,598.54 577.86,598.54 577.86,604.09 580.08,604.09 580.08,611.03 582.02,611.03 582.02,617.96 583.96,617.96 583.96,626.28 585.63,626.28 585.63,634.60 587.57,634.60 587.57,645.70 593.12,645.70 593.12,647.09 595.89,647.09 595.89,652.64 598.67,652.64 598.67,660.40 608.37,660.40 608.37,662.34 613.92,662.34 613.92,666.50 619.47,666.50 619.47,670.67 625.02,670.67 625.02,674.27 629.18,674.27 629.18,678.99 634.73,678.99 634.73,683.15 640.27,683.15 640.27,687.31 644.44,687.31 644.44,692.86 647.76,692.86 647.76,697.02 650.54,697.02 650.54,701.18 653.31,701.18 653.31,701.18" fill="none" stroke="#3399cc" stroke-width="2.0" stroke-linejoin="round" />
<polyline points="490.48,561.65 516.83,561.65 516.83,564.42 582.02,564.42 582.02,566.64 590.34,566.64 590.34,568.03 592.29,568.03 592.29,577.74 594.50,577.74 594.50,586.06 597.28,586.06 597.28,591.61 601.44,591.61 601.44,595.77 604.21,595.77 604.21,601.32 606.99,601.32 606.99,606.87 613.92,606.87 613.92,608.81 619.47,608.81 619.47,613.25 623.63,613.25 623.63,617.13 629.18,617.13 629.18,620.74 634.73,620.74 634.73,623.51 640.27,623.51 640.27,626.28 644.44,626.28 644.44,631.83 651.37,631.83 651.37,632.66 652.76,632.66 652.76,637.38" fill="none" stroke="#1a1acc" stroke-width="2.0" stroke-linejoin="round" />
<text x="608.90" y="597.20" font-size="12.4" text-anchor="start" font-style="italic" fill="#1a1a1a" >WT</text>
<text x="547.30" y="665.10" font-size="12.4" text-anchor="start" font-style="italic" fill="#1a1a1a" >Aox4-/-</text>
<text x="490.50" y="699.20" font-size="12.3" text-anchor="start" font-weight="bold" fill="#e0282e" >p= 0.000199</text>
<text x="10.20" y="779.80" font-size="22" text-anchor="start" fill="#1a1a1a" >d</text>
<rect x="47.00" y="792.40" width="171.80" height="150.60" fill="#fff" stroke="#111" stroke-width="1.3"/>
<text y="784.8" font-size="12.6" font-weight="bold" fill="#1a1a1a"><tspan x="100.7">O</tspan><tspan dy="1.5">2</tspan><tspan x="125.2" dy="-1.5">uptake</tspan></text>
<line x1="44.50" y1="795.30" x2="47.00" y2="795.30" stroke="#222" stroke-width="1"/>
<text x="43.80" y="798.80" font-size="9.8" text-anchor="end" fill="#1a1a1a" >5e-4</text>
<line x1="44.50" y1="823.30" x2="47.00" y2="823.30" stroke="#222" stroke-width="1"/>
<text x="43.80" y="826.80" font-size="9.8" text-anchor="end" fill="#1a1a1a" >4e-4</text>
<line x1="44.50" y1="851.00" x2="47.00" y2="851.00" stroke="#222" stroke-width="1"/>
<text x="43.80" y="854.50" font-size="9.8" text-anchor="end" fill="#1a1a1a" >3e-4</text>
<line x1="44.50" y1="879.00" x2="47.00" y2="879.00" stroke="#222" stroke-width="1"/>
<text x="43.80" y="882.50" font-size="9.8" text-anchor="end" fill="#1a1a1a" >2e-4</text>
<line x1="44.50" y1="907.30" x2="47.00" y2="907.30" stroke="#222" stroke-width="1"/>
<text x="43.80" y="910.80" font-size="9.8" text-anchor="end" fill="#1a1a1a" >1e-4</text>
<line x1="44.50" y1="935.40" x2="47.00" y2="935.40" stroke="#222" stroke-width="1"/>
<text x="43.80" y="938.90" font-size="9.8" text-anchor="end" fill="#1a1a1a" >0</text>
<text x="34.80" y="957.20" font-size="10.5" text-anchor="middle" fill="#1a1a1a" >ZT</text>
<text x="47.30" y="957.20" font-size="10.5" text-anchor="middle" fill="#1a1a1a" >4</text>
<text x="88.30" y="957.20" font-size="10.5" text-anchor="middle" fill="#1a1a1a" >10</text>
<text x="127.90" y="957.20" font-size="10.5" text-anchor="middle" fill="#1a1a1a" >16</text>
<text x="167.50" y="957.20" font-size="10.5" text-anchor="middle" fill="#1a1a1a" >22</text>
<text x="207.40" y="957.20" font-size="10.5" text-anchor="middle" fill="#1a1a1a" >4</text>
<line x1="47.30" y1="943.00" x2="47.30" y2="946.00" stroke="#222" stroke-width="1.1"/>
<line x1="54.13" y1="943.00" x2="54.13" y2="946.20" stroke="#111" stroke-width="2.0"/>
<line x1="60.97" y1="943.00" x2="60.97" y2="946.00" stroke="#222" stroke-width="1.1"/>
<line x1="67.80" y1="943.00" x2="67.80" y2="946.00" stroke="#222" stroke-width="1.1"/>
<line x1="74.63" y1="943.00" x2="74.63" y2="946.00" stroke="#222" stroke-width="1.1"/>
<line x1="81.47" y1="943.00" x2="81.47" y2="946.20" stroke="#111" stroke-width="2.0"/>
<line x1="88.30" y1="943.00" x2="88.30" y2="946.00" stroke="#222" stroke-width="1.1"/>
<line x1="95.13" y1="943.00" x2="95.13" y2="946.00" stroke="#222" stroke-width="1.1"/>
<line x1="101.97" y1="943.00" x2="101.97" y2="946.00" stroke="#222" stroke-width="1.1"/>
<line x1="108.80" y1="943.00" x2="108.80" y2="946.20" stroke="#111" stroke-width="2.0"/>
<line x1="115.63" y1="943.00" x2="115.63" y2="946.00" stroke="#222" stroke-width="1.1"/>
<line x1="122.47" y1="943.00" x2="122.47" y2="946.00" stroke="#222" stroke-width="1.1"/>
<line x1="129.30" y1="943.00" x2="129.30" y2="946.00" stroke="#222" stroke-width="1.1"/>
<line x1="136.13" y1="943.00" x2="136.13" y2="946.20" stroke="#111" stroke-width="2.0"/>
<line x1="142.97" y1="943.00" x2="142.97" y2="946.00" stroke="#222" stroke-width="1.1"/>
<line x1="149.80" y1="943.00" x2="149.80" y2="946.00" stroke="#222" stroke-width="1.1"/>
<line x1="156.63" y1="943.00" x2="156.63" y2="946.00" stroke="#222" stroke-width="1.1"/>
<line x1="163.47" y1="943.00" x2="163.47" y2="946.20" stroke="#111" stroke-width="2.0"/>
<line x1="170.30" y1="943.00" x2="170.30" y2="946.00" stroke="#222" stroke-width="1.1"/>
<line x1="177.13" y1="943.00" x2="177.13" y2="946.00" stroke="#222" stroke-width="1.1"/>
<line x1="183.97" y1="943.00" x2="183.97" y2="946.00" stroke="#222" stroke-width="1.1"/>
<line x1="190.80" y1="943.00" x2="190.80" y2="946.20" stroke="#111" stroke-width="2.0"/>
<line x1="197.63" y1="943.00" x2="197.63" y2="946.00" stroke="#222" stroke-width="1.1"/>
<line x1="204.47" y1="943.00" x2="204.47" y2="946.00" stroke="#222" stroke-width="1.1"/>
<line x1="211.30" y1="943.00" x2="211.30" y2="946.00" stroke="#222" stroke-width="1.1"/>
<rect x="46.60" y="962.40" width="170.60" height="8.00" fill="#fff" stroke="#222" stroke-width="1.0"/>
<rect x="100.30" y="962.40" width="79.50" height="8.00" fill="#000"/>
<polygon points="54.50,841.68 55.70,840.10 56.90,839.98 58.11,845.01 59.31,848.85 60.51,851.76 61.71,853.34 62.92,853.92 64.12,854.40 65.32,852.74 66.52,849.45 67.73,847.86 68.93,845.77 70.13,846.41 71.33,846.57 72.53,847.63 73.74,849.77 74.94,850.13 76.14,851.14 77.34,852.89 78.55,853.09 79.75,852.56 80.95,852.19 82.15,853.17 83.36,853.22 84.56,852.38 85.76,851.99 86.96,850.76 88.16,849.51 89.37,848.59 90.57,848.27 91.77,847.76 92.97,847.56 94.18,847.47 95.38,848.42 96.58,849.17 97.78,847.29 98.99,845.85 100.19,843.07 101.39,840.24 102.59,834.74 103.79,828.30 105.00,823.62 106.20,817.51 107.40,811.42 108.60,806.87 109.81,802.80 111.01,801.11 112.21,798.73 113.41,798.31 114.62,798.78 115.82,798.94 117.02,799.17 118.22,799.92 119.42,801.15 120.63,801.80 121.83,803.31 123.03,803.70 124.23,803.53 125.44,804.66 126.64,805.59 127.84,805.69 129.04,806.13 130.25,806.83 131.45,807.92 132.65,808.66 133.85,809.65 135.05,810.59 136.26,811.95 137.46,812.42 138.66,811.87 139.86,811.78 141.07,811.02 142.27,809.55 143.47,809.10 144.67,810.08 145.88,811.08 147.08,812.12 148.28,812.45 149.48,813.04 150.68,815.06 151.89,817.50 153.09,819.16 154.29,822.34 155.49,824.43 156.70,826.48 157.90,829.66 159.10,833.58 160.30,836.03 161.51,836.65 162.71,835.71 163.91,835.35 165.11,832.15 166.31,828.80 167.52,826.92 168.72,825.57 169.92,824.02 171.12,822.98 172.33,821.52 173.53,820.50 174.73,819.99 175.93,817.96 177.14,817.50 178.34,817.24 179.54,816.12 180.74,815.55 181.94,815.13 183.15,815.60 184.35,816.89 185.55,819.44 186.75,822.17 187.96,824.97 189.16,827.97 190.36,829.90 191.56,833.46 192.77,835.07 193.97,836.87 195.17,838.98 196.37,840.69 197.57,842.03 198.78,844.02 199.98,844.40 201.18,845.84 202.38,847.85 203.59,849.07 204.79,850.13 205.99,850.10 207.19,851.82 208.40,853.03 209.60,853.32 210.80,854.21 210.80,860.38 209.60,860.26 208.40,858.53 207.19,857.72 205.99,857.42 204.79,855.37 203.59,854.31 202.38,853.29 201.18,852.92 199.98,851.96 198.78,849.93 197.57,849.52 196.37,848.12 195.17,846.42 193.97,844.48 192.77,841.91 191.56,839.15 190.36,838.34 189.16,835.84 187.96,834.05 186.75,831.69 185.55,828.99 184.35,826.20 183.15,824.37 181.94,823.93 180.74,824.71 179.54,825.34 178.34,825.60 177.14,826.90 175.93,828.20 174.73,827.95 173.53,829.49 172.33,830.89 171.12,832.23 169.92,834.09 168.72,835.44 167.52,837.20 166.31,838.89 165.11,839.54 163.91,840.57 162.71,843.59 161.51,843.38 160.30,841.98 159.10,840.07 157.90,839.08 156.70,836.94 155.49,833.67 154.29,830.79 153.09,829.37 151.89,826.81 150.68,825.02 149.48,823.59 148.28,821.66 147.08,820.40 145.88,819.99 144.67,819.54 143.47,819.66 142.27,819.32 141.07,818.95 139.86,819.66 138.66,821.04 137.46,821.33 136.26,821.21 135.05,820.57 133.85,818.87 132.65,817.69 131.45,816.77 130.25,816.52 129.04,815.89 127.84,815.03 126.64,813.88 125.44,813.62 124.23,813.56 123.03,812.17 121.83,811.21 120.63,811.25 119.42,810.37 118.22,810.09 117.02,809.44 115.82,808.38 114.62,807.43 113.41,807.98 112.21,808.85 111.01,810.09 109.81,813.22 108.60,816.67 107.40,821.24 106.20,826.24 105.00,831.76 103.79,838.50 102.59,842.72 101.39,845.96 100.19,850.06 98.99,852.61 97.78,854.84 96.58,854.43 95.38,854.43 94.18,853.96 92.97,853.37 91.77,853.61 90.57,854.13 89.37,855.17 88.16,855.93 86.96,856.58 85.76,857.27 84.56,858.76 83.36,859.03 82.15,859.43 80.95,860.02 79.75,859.27 78.55,858.36 77.34,858.17 76.14,858.87 74.94,857.98 73.74,855.61 72.53,854.85 71.33,853.01 70.13,851.61 68.93,853.10 67.73,854.27 66.52,856.99 65.32,858.02 64.12,859.86 62.92,861.33 61.71,860.37 60.51,858.22 59.31,855.44 58.11,850.93 56.90,847.32 55.70,847.67 54.50,847.26" fill="#858585" />
<polygon points="54.50,852.33 55.70,851.93 56.90,850.88 58.11,850.84 59.31,850.03 60.51,848.59 61.71,847.96 62.92,847.11 64.12,845.87 65.32,845.93 66.52,845.59 67.73,846.47 68.93,848.01 70.13,849.35 71.33,849.54 72.53,851.57 73.74,853.35 74.94,853.21 76.14,852.27 77.34,851.99 78.55,850.61 79.75,849.03 80.95,846.84 82.15,846.91 83.36,846.15 84.56,846.90 85.76,847.82 86.96,849.01 88.16,848.17 89.37,847.99 90.57,847.31 91.77,846.52 92.97,845.00 94.18,844.94 95.38,844.78 96.58,845.45 97.78,845.01 98.99,845.02 100.19,843.11 101.39,839.79 102.59,836.49 103.79,832.83 105.00,825.61 106.20,821.32 107.40,815.47 108.60,810.93 109.81,807.64 111.01,805.18 112.21,804.34 113.41,802.51 114.62,803.65 115.82,802.55 117.02,802.58 118.22,803.65 119.42,805.03 120.63,804.95 121.83,805.65 123.03,806.83 124.23,807.85 125.44,808.76 126.64,809.53 127.84,810.32 129.04,809.90 130.25,810.11 131.45,810.09 132.65,809.75 133.85,808.36 135.05,808.13 136.26,807.05 137.46,806.50 138.66,804.95 139.86,804.11 141.07,804.55 142.27,804.06 143.47,804.27 144.67,804.36 145.88,805.73 147.08,807.43 148.28,808.74 149.48,809.57 150.68,811.16 151.89,813.15 153.09,816.09 154.29,817.63 155.49,820.38 156.70,823.33 157.90,825.29 159.10,828.27 160.30,828.52 161.51,829.38 162.71,828.97 163.91,827.46 165.11,827.65 166.31,825.78 167.52,824.78 168.72,823.18 169.92,822.49 171.12,821.09 172.33,819.66 173.53,817.61 174.73,817.64 175.93,817.70 177.14,818.99 178.34,821.23 179.54,821.70 180.74,823.24 181.94,824.12 183.15,824.84 184.35,824.48 185.55,825.32 186.75,825.98 187.96,827.39 189.16,827.90 190.36,828.80 191.56,832.03 192.77,833.19 193.97,835.11 195.17,836.67 196.37,837.63 197.57,837.84 198.78,839.31 199.98,839.82 201.18,841.48 202.38,842.76 203.59,843.13 204.79,844.23 205.99,846.57 207.19,846.85 208.40,848.87 209.60,850.04 210.80,849.56 210.80,857.24 209.60,855.56 208.40,854.32 207.19,853.93 205.99,851.81 204.79,851.75 203.59,850.54 202.38,848.73 201.18,847.96 199.98,847.61 198.78,846.09 197.57,845.54 196.37,843.58 195.17,842.10 193.97,840.93 192.77,839.99 191.56,838.29 190.36,838.79 189.16,837.42 187.96,836.15 186.75,836.10 185.55,835.32 184.35,834.70 183.15,832.85 181.94,832.03 180.74,831.33 179.54,831.04 178.34,829.41 177.14,829.28 175.93,828.17 174.73,827.13 173.53,827.84 172.33,828.28 171.12,829.84 169.92,831.32 168.72,833.33 167.52,834.26 166.31,835.71 165.11,836.04 163.91,837.81 162.71,837.24 161.51,837.41 160.30,838.35 159.10,836.73 157.90,835.85 156.70,832.49 155.49,830.11 154.29,827.90 153.09,824.85 151.89,823.56 150.68,821.31 149.48,819.26 148.28,817.13 147.08,816.18 145.88,815.72 144.67,814.92 143.47,812.99 142.27,812.42 141.07,812.41 139.86,814.43 138.66,815.19 137.46,815.21 136.26,816.25 135.05,816.76 133.85,818.03 132.65,817.85 131.45,818.43 130.25,819.12 129.04,819.59 127.84,818.70 126.64,818.30 125.44,817.62 124.23,817.08 123.03,816.61 121.83,816.18 120.63,815.18 119.42,813.31 118.22,813.05 117.02,813.07 115.82,812.65 114.62,811.55 113.41,812.77 112.21,812.17 111.01,813.69 109.81,816.60 108.60,820.81 107.40,825.90 106.20,829.99 105.00,835.82 103.79,838.89 102.59,844.14 101.39,847.70 100.19,849.14 98.99,850.39 97.78,851.98 96.58,851.55 95.38,851.59 94.18,851.25 92.97,852.02 91.77,852.34 90.57,853.95 89.37,855.42 88.16,856.10 86.96,854.83 85.76,854.54 84.56,853.99 83.36,853.32 82.15,852.56 80.95,854.05 79.75,854.64 78.55,855.86 77.34,857.25 76.14,859.76 74.94,860.10 73.74,859.14 72.53,858.19 71.33,857.26 70.13,854.85 68.93,853.74 67.73,852.85 66.52,851.87 65.32,851.19 64.12,852.40 62.92,853.22 61.71,854.43 60.51,855.78 59.31,855.99 58.11,856.51 56.90,857.55 55.70,857.58 54.50,857.73" fill="#858585" />
<polyline points="54.50,855.03 55.70,854.76 56.90,854.22 58.11,853.67 59.31,853.01 60.51,852.18 61.71,851.19 62.92,850.17 64.12,849.14 65.32,848.56 66.52,848.73 67.73,849.66 68.93,850.88 70.13,852.10 71.33,853.40 72.53,854.88 73.74,856.24 74.94,856.65 76.14,856.02 77.34,854.62 78.55,853.23 79.75,851.84 80.95,850.45 82.15,849.74 83.36,849.74 84.56,850.45 85.76,851.18 86.96,851.92 88.16,852.14 89.37,851.71 90.57,850.63 91.77,849.43 92.97,848.51 94.18,848.10 95.38,848.19 96.58,848.50 97.78,848.50 98.99,847.70 100.19,846.13 101.39,843.74 102.59,840.32 103.79,835.86 105.00,830.72 106.20,825.66 107.40,820.68 108.60,815.87 109.81,812.12 111.01,809.44 112.21,808.25 113.41,807.64 114.62,807.60 115.82,807.60 117.02,807.83 118.22,808.35 119.42,809.17 120.63,810.06 121.83,810.92 123.03,811.72 124.23,812.47 125.44,813.19 126.64,813.92 127.84,814.51 129.04,814.74 130.25,814.61 131.45,814.26 132.65,813.80 133.85,813.20 135.05,812.44 136.26,811.65 137.46,810.86 138.66,810.07 139.86,809.27 141.07,808.48 142.27,808.24 143.47,808.63 144.67,809.64 145.88,810.72 147.08,811.80 148.28,812.94 149.48,814.41 150.68,816.24 151.89,818.35 153.09,820.47 154.29,822.77 155.49,825.25 156.70,827.91 157.90,830.57 159.10,832.50 160.30,833.44 161.51,833.39 162.71,833.11 163.91,832.63 165.11,831.85 166.31,830.75 167.52,829.52 168.72,828.26 169.92,826.90 171.12,825.46 172.33,823.97 173.53,822.73 174.73,822.38 175.93,822.93 177.14,824.14 178.34,825.32 179.54,826.37 180.74,827.28 181.94,828.07 183.15,828.84 184.35,829.59 185.55,830.32 186.75,831.04 187.96,831.77 189.16,832.66 190.36,833.79 191.56,835.16 192.77,836.59 193.97,838.02 195.17,839.38 196.37,840.61 197.57,841.69 198.78,842.70 199.98,843.71 201.18,844.72 202.38,845.75 203.59,846.84 204.79,847.99 205.99,849.19 207.19,850.39 208.40,851.60 209.60,852.80 210.80,853.40" fill="none" stroke="#40c0d0" stroke-width="2.2" stroke-linejoin="round" />
<polyline points="54.50,844.47 55.70,843.88 56.90,843.65 58.11,847.97 59.31,852.15 60.51,854.99 61.71,856.86 62.92,857.62 64.12,857.13 65.32,855.38 66.52,853.22 67.73,851.06 68.93,849.44 70.13,849.01 71.33,849.79 72.53,851.24 73.74,852.69 74.94,854.06 76.14,855.00 77.34,855.53 78.55,855.72 79.75,855.92 80.95,856.11 82.15,856.30 83.36,856.12 84.56,855.57 85.76,854.63 86.96,853.67 88.16,852.72 89.37,851.88 90.57,851.20 91.77,850.68 92.97,850.47 94.18,850.71 95.38,851.42 96.58,851.80 97.78,851.06 98.99,849.23 100.19,846.56 101.39,843.10 102.59,838.73 103.79,833.40 105.00,827.69 106.20,821.87 107.40,816.33 108.60,811.77 109.81,808.01 111.01,805.60 112.21,803.79 113.41,803.14 114.62,803.10 115.82,803.66 117.02,804.30 118.22,805.00 119.42,805.76 120.63,806.53 121.83,807.26 123.03,807.94 124.23,808.55 125.44,809.14 126.64,809.74 127.84,810.36 129.04,811.01 130.25,811.68 131.45,812.34 132.65,813.18 133.85,814.26 135.05,815.58 136.26,816.58 137.46,816.88 138.66,816.46 139.86,815.72 141.07,814.99 142.27,814.44 143.47,814.38 144.67,814.81 145.88,815.53 147.08,816.26 148.28,817.06 149.48,818.31 150.68,820.04 151.89,822.15 153.09,824.27 154.29,826.57 155.49,829.05 156.70,831.71 157.90,834.37 159.10,836.83 160.30,839.00 161.51,840.02 162.71,839.65 163.91,837.96 165.11,835.85 166.31,833.84 167.52,832.06 168.72,830.51 169.92,829.05 171.12,827.60 172.33,826.21 173.53,824.99 174.73,823.97 175.93,823.08 177.14,822.20 178.34,821.42 179.54,820.73 180.74,820.13 181.94,819.53 183.15,819.98 184.35,821.55 185.55,824.21 186.75,826.93 187.96,829.51 189.16,831.90 190.36,834.12 191.56,836.31 192.77,838.49 193.97,840.67 195.17,842.70 196.37,844.40 197.57,845.77 198.78,846.98 199.98,848.18 201.18,849.38 202.38,850.57 203.59,851.69 204.79,852.75 205.99,853.76 207.19,854.77 208.40,855.78 209.60,856.79 210.80,857.30" fill="none" stroke="#5a50e0" stroke-width="2.2" stroke-linejoin="round" />
<circle cx="54.50" cy="844.47" r="0.55" fill="#dcdcff"/>
<circle cx="54.50" cy="855.03" r="0.55" fill="#e0ffff"/>
<circle cx="56.90" cy="843.65" r="0.55" fill="#dcdcff"/>
<circle cx="56.90" cy="854.22" r="0.55" fill="#e0ffff"/>
<circle cx="59.31" cy="852.15" r="0.55" fill="#dcdcff"/>
<circle cx="59.31" cy="853.01" r="0.55" fill="#e0ffff"/>
<circle cx="61.71" cy="856.86" r="0.55" fill="#dcdcff"/>
<circle cx="61.71" cy="851.19" r="0.55" fill="#e0ffff"/>
<circle cx="64.12" cy="857.13" r="0.55" fill="#dcdcff"/>
<circle cx="64.12" cy="849.14" r="0.55" fill="#e0ffff"/>
<circle cx="66.52" cy="853.22" r="0.55" fill="#dcdcff"/>
<circle cx="66.52" cy="848.73" r="0.55" fill="#e0ffff"/>
<circle cx="68.93" cy="849.44" r="0.55" fill="#dcdcff"/>
<circle cx="68.93" cy="850.88" r="0.55" fill="#e0ffff"/>
<circle cx="71.33" cy="849.79" r="0.55" fill="#dcdcff"/>
<circle cx="71.33" cy="853.40" r="0.55" fill="#e0ffff"/>
<circle cx="73.74" cy="852.69" r="0.55" fill="#dcdcff"/>
<circle cx="73.74" cy="856.24" r="0.55" fill="#e0ffff"/>
<circle cx="76.14" cy="855.00" r="0.55" fill="#dcdcff"/>
<circle cx="76.14" cy="856.02" r="0.55" fill="#e0ffff"/>
<circle cx="78.55" cy="855.72" r="0.55" fill="#dcdcff"/>
<circle cx="78.55" cy="853.23" r="0.55" fill="#e0ffff"/>
<circle cx="80.95" cy="856.11" r="0.55" fill="#dcdcff"/>
<circle cx="80.95" cy="850.45" r="0.55" fill="#e0ffff"/>
<circle cx="83.36" cy="856.12" r="0.55" fill="#dcdcff"/>
<circle cx="83.36" cy="849.74" r="0.55" fill="#e0ffff"/>
<circle cx="85.76" cy="854.63" r="0.55" fill="#dcdcff"/>
<circle cx="85.76" cy="851.18" r="0.55" fill="#e0ffff"/>
<circle cx="88.16" cy="852.72" r="0.55" fill="#dcdcff"/>
<circle cx="88.16" cy="852.14" r="0.55" fill="#e0ffff"/>
<circle cx="90.57" cy="851.20" r="0.55" fill="#dcdcff"/>
<circle cx="90.57" cy="850.63" r="0.55" fill="#e0ffff"/>
<circle cx="92.97" cy="850.47" r="0.55" fill="#dcdcff"/>
<circle cx="92.97" cy="848.51" r="0.55" fill="#e0ffff"/>
<circle cx="95.38" cy="851.42" r="0.55" fill="#dcdcff"/>
<circle cx="95.38" cy="848.19" r="0.55" fill="#e0ffff"/>
<circle cx="97.78" cy="851.06" r="0.55" fill="#dcdcff"/>
<circle cx="97.78" cy="848.50" r="0.55" fill="#e0ffff"/>
<circle cx="100.19" cy="846.56" r="0.55" fill="#dcdcff"/>
<circle cx="100.19" cy="846.13" r="0.55" fill="#e0ffff"/>
<circle cx="102.59" cy="838.73" r="0.55" fill="#dcdcff"/>
<circle cx="102.59" cy="840.32" r="0.55" fill="#e0ffff"/>
<circle cx="105.00" cy="827.69" r="0.55" fill="#dcdcff"/>
<circle cx="105.00" cy="830.72" r="0.55" fill="#e0ffff"/>
<circle cx="107.40" cy="816.33" r="0.55" fill="#dcdcff"/>
<circle cx="107.40" cy="820.68" r="0.55" fill="#e0ffff"/>
<circle cx="109.81" cy="808.01" r="0.55" fill="#dcdcff"/>
<circle cx="109.81" cy="812.12" r="0.55" fill="#e0ffff"/>
<circle cx="112.21" cy="803.79" r="0.55" fill="#dcdcff"/>
<circle cx="112.21" cy="808.25" r="0.55" fill="#e0ffff"/>
<circle cx="114.62" cy="803.10" r="0.55" fill="#dcdcff"/>
<circle cx="114.62" cy="807.60" r="0.55" fill="#e0ffff"/>
<circle cx="117.02" cy="804.30" r="0.55" fill="#dcdcff"/>
<circle cx="117.02" cy="807.83" r="0.55" fill="#e0ffff"/>
<circle cx="119.42" cy="805.76" r="0.55" fill="#dcdcff"/>
<circle cx="119.42" cy="809.17" r="0.55" fill="#e0ffff"/>
<circle cx="121.83" cy="807.26" r="0.55" fill="#dcdcff"/>
<circle cx="121.83" cy="810.92" r="0.55" fill="#e0ffff"/>
<circle cx="124.23" cy="808.55" r="0.55" fill="#dcdcff"/>
<circle cx="124.23" cy="812.47" r="0.55" fill="#e0ffff"/>
<circle cx="126.64" cy="809.74" r="0.55" fill="#dcdcff"/>
<circle cx="126.64" cy="813.92" r="0.55" fill="#e0ffff"/>
<circle cx="129.04" cy="811.01" r="0.55" fill="#dcdcff"/>
<circle cx="129.04" cy="814.74" r="0.55" fill="#e0ffff"/>
<circle cx="131.45" cy="812.34" r="0.55" fill="#dcdcff"/>
<circle cx="131.45" cy="814.26" r="0.55" fill="#e0ffff"/>
<circle cx="133.85" cy="814.26" r="0.55" fill="#dcdcff"/>
<circle cx="133.85" cy="813.20" r="0.55" fill="#e0ffff"/>
<circle cx="136.26" cy="816.58" r="0.55" fill="#dcdcff"/>
<circle cx="136.26" cy="811.65" r="0.55" fill="#e0ffff"/>
<circle cx="138.66" cy="816.46" r="0.55" fill="#dcdcff"/>
<circle cx="138.66" cy="810.07" r="0.55" fill="#e0ffff"/>
<circle cx="141.07" cy="814.99" r="0.55" fill="#dcdcff"/>
<circle cx="141.07" cy="808.48" r="0.55" fill="#e0ffff"/>
<circle cx="143.47" cy="814.38" r="0.55" fill="#dcdcff"/>
<circle cx="143.47" cy="808.63" r="0.55" fill="#e0ffff"/>
<circle cx="145.88" cy="815.53" r="0.55" fill="#dcdcff"/>
<circle cx="145.88" cy="810.72" r="0.55" fill="#e0ffff"/>
<circle cx="148.28" cy="817.06" r="0.55" fill="#dcdcff"/>
<circle cx="148.28" cy="812.94" r="0.55" fill="#e0ffff"/>
<circle cx="150.68" cy="820.04" r="0.55" fill="#dcdcff"/>
<circle cx="150.68" cy="816.24" r="0.55" fill="#e0ffff"/>
<circle cx="153.09" cy="824.27" r="0.55" fill="#dcdcff"/>
<circle cx="153.09" cy="820.47" r="0.55" fill="#e0ffff"/>
<circle cx="155.49" cy="829.05" r="0.55" fill="#dcdcff"/>
<circle cx="155.49" cy="825.25" r="0.55" fill="#e0ffff"/>
<circle cx="157.90" cy="834.37" r="0.55" fill="#dcdcff"/>
<circle cx="157.90" cy="830.57" r="0.55" fill="#e0ffff"/>
<circle cx="160.30" cy="839.00" r="0.55" fill="#dcdcff"/>
<circle cx="160.30" cy="833.44" r="0.55" fill="#e0ffff"/>
<circle cx="162.71" cy="839.65" r="0.55" fill="#dcdcff"/>
<circle cx="162.71" cy="833.11" r="0.55" fill="#e0ffff"/>
<circle cx="165.11" cy="835.85" r="0.55" fill="#dcdcff"/>
<circle cx="165.11" cy="831.85" r="0.55" fill="#e0ffff"/>
<circle cx="167.52" cy="832.06" r="0.55" fill="#dcdcff"/>
<circle cx="167.52" cy="829.52" r="0.55" fill="#e0ffff"/>
<circle cx="169.92" cy="829.05" r="0.55" fill="#dcdcff"/>
<circle cx="169.92" cy="826.90" r="0.55" fill="#e0ffff"/>
<circle cx="172.33" cy="826.21" r="0.55" fill="#dcdcff"/>
<circle cx="172.33" cy="823.97" r="0.55" fill="#e0ffff"/>
<circle cx="174.73" cy="823.97" r="0.55" fill="#dcdcff"/>
<circle cx="174.73" cy="822.38" r="0.55" fill="#e0ffff"/>
<circle cx="177.14" cy="822.20" r="0.55" fill="#dcdcff"/>
<circle cx="177.14" cy="824.14" r="0.55" fill="#e0ffff"/>
<circle cx="179.54" cy="820.73" r="0.55" fill="#dcdcff"/>
<circle cx="179.54" cy="826.37" r="0.55" fill="#e0ffff"/>
<circle cx="181.94" cy="819.53" r="0.55" fill="#dcdcff"/>
<circle cx="181.94" cy="828.07" r="0.55" fill="#e0ffff"/>
<circle cx="184.35" cy="821.55" r="0.55" fill="#dcdcff"/>
<circle cx="184.35" cy="829.59" r="0.55" fill="#e0ffff"/>
<circle cx="186.75" cy="826.93" r="0.55" fill="#dcdcff"/>
<circle cx="186.75" cy="831.04" r="0.55" fill="#e0ffff"/>
<circle cx="189.16" cy="831.90" r="0.55" fill="#dcdcff"/>
<circle cx="189.16" cy="832.66" r="0.55" fill="#e0ffff"/>
<circle cx="191.56" cy="836.31" r="0.55" fill="#dcdcff"/>
<circle cx="191.56" cy="835.16" r="0.55" fill="#e0ffff"/>
<circle cx="193.97" cy="840.67" r="0.55" fill="#dcdcff"/>
<circle cx="193.97" cy="838.02" r="0.55" fill="#e0ffff"/>
<circle cx="196.37" cy="844.40" r="0.55" fill="#dcdcff"/>
<circle cx="196.37" cy="840.61" r="0.55" fill="#e0ffff"/>
<circle cx="198.78" cy="846.98" r="0.55" fill="#dcdcff"/>
<circle cx="198.78" cy="842.70" r="0.55" fill="#e0ffff"/>
<circle cx="201.18" cy="849.38" r="0.55" fill="#dcdcff"/>
<circle cx="201.18" cy="844.72" r="0.55" fill="#e0ffff"/>
<circle cx="203.59" cy="851.69" r="0.55" fill="#dcdcff"/>
<circle cx="203.59" cy="846.84" r="0.55" fill="#e0ffff"/>
<circle cx="205.99" cy="853.76" r="0.55" fill="#dcdcff"/>
<circle cx="205.99" cy="849.19" r="0.55" fill="#e0ffff"/>
<circle cx="208.40" cy="855.78" r="0.55" fill="#dcdcff"/>
<circle cx="208.40" cy="851.60" r="0.55" fill="#e0ffff"/>
<circle cx="210.80" cy="857.30" r="0.55" fill="#dcdcff"/>
<circle cx="210.80" cy="853.40" r="0.55" fill="#e0ffff"/>
<circle cx="61.20" cy="912.2" r="3.7" fill="none" stroke="#2a3a8a" stroke-width="1.4"/>
<circle cx="61.20" cy="926.2" r="3.7" fill="none" stroke="#2a9aa0" stroke-width="1.4"/>
<text x="69.20" y="915.60" font-size="9.5" text-anchor="start" font-style="italic" fill="#1a1a1a" >WT</text>
<text x="69.20" y="929.60" font-size="9.5" text-anchor="start" font-style="italic" fill="#1a1a1a" >Aox4<tspan dy="-3" font-size="7">-/-</tspan></text>
<text x="0" y="0" font-size="10" letter-spacing="1.1" text-anchor="middle" fill="#1a1a1a" transform="translate(16.00,869) rotate(-90)">liters/acq</text>
<path d="M69.20,839.20L69.20,843.20M67.47,840.20L70.93,842.20M70.93,840.20L67.47,842.20" stroke="#666" stroke-width="1.1" fill="none"/>
<rect x="269.30" y="792.30" width="171.70" height="150.30" fill="#fff" stroke="#111" stroke-width="1.3"/>
<text y="784.8" font-size="13" font-weight="bold" fill="#1a1a1a"><tspan x="307">CO</tspan><tspan dy="1.5">2</tspan><tspan dy="-1.5"> production</tspan></text>
<line x1="266.80" y1="803.40" x2="269.30" y2="803.40" stroke="#222" stroke-width="1"/>
<text x="266.10" y="806.90" font-size="9.8" text-anchor="end" fill="#1a1a1a" >5e-4</text>
<line x1="266.80" y1="830.20" x2="269.30" y2="830.20" stroke="#222" stroke-width="1"/>
<text x="266.10" y="833.70" font-size="9.8" text-anchor="end" fill="#1a1a1a" >4e-4</text>
<line x1="266.80" y1="857.20" x2="269.30" y2="857.20" stroke="#222" stroke-width="1"/>
<text x="266.10" y="860.70" font-size="9.8" text-anchor="end" fill="#1a1a1a" >3e-4</text>
<line x1="266.80" y1="884.00" x2="269.30" y2="884.00" stroke="#222" stroke-width="1"/>
<text x="266.10" y="887.50" font-size="9.8" text-anchor="end" fill="#1a1a1a" >2e-4</text>
<line x1="266.80" y1="910.90" x2="269.30" y2="910.90" stroke="#222" stroke-width="1"/>
<text x="266.10" y="914.40" font-size="9.8" text-anchor="end" fill="#1a1a1a" >1e-4</text>
<line x1="266.80" y1="936.60" x2="269.30" y2="936.60" stroke="#222" stroke-width="1"/>
<text x="266.10" y="940.10" font-size="9.8" text-anchor="end" fill="#1a1a1a" >0</text>
<text x="256.50" y="957.20" font-size="10.5" text-anchor="middle" fill="#1a1a1a" >ZT</text>
<text x="269.00" y="957.20" font-size="10.5" text-anchor="middle" fill="#1a1a1a" >4</text>
<text x="308.60" y="957.20" font-size="10.5" text-anchor="middle" fill="#1a1a1a" >10</text>
<text x="349.00" y="957.20" font-size="10.5" text-anchor="middle" fill="#1a1a1a" >16</text>
<text x="387.50" y="957.20" font-size="10.5" text-anchor="middle" fill="#1a1a1a" >22</text>
<text x="428.50" y="957.20" font-size="10.5" text-anchor="middle" fill="#1a1a1a" >4</text>
<line x1="269.00" y1="942.60" x2="269.00" y2="945.60" stroke="#222" stroke-width="1.1"/>
<line x1="275.60" y1="942.60" x2="275.60" y2="945.80" stroke="#111" stroke-width="2.0"/>
<line x1="282.20" y1="942.60" x2="282.20" y2="945.60" stroke="#222" stroke-width="1.1"/>
<line x1="288.80" y1="942.60" x2="288.80" y2="945.60" stroke="#222" stroke-width="1.1"/>
<line x1="295.40" y1="942.60" x2="295.40" y2="945.60" stroke="#222" stroke-width="1.1"/>
<line x1="302.00" y1="942.60" x2="302.00" y2="945.80" stroke="#111" stroke-width="2.0"/>
<line x1="308.60" y1="942.60" x2="308.60" y2="945.60" stroke="#222" stroke-width="1.1"/>
<line x1="315.20" y1="942.60" x2="315.20" y2="945.60" stroke="#222" stroke-width="1.1"/>
<line x1="321.80" y1="942.60" x2="321.80" y2="945.60" stroke="#222" stroke-width="1.1"/>
<line x1="328.40" y1="942.60" x2="328.40" y2="945.80" stroke="#111" stroke-width="2.0"/>
<line x1="335.00" y1="942.60" x2="335.00" y2="945.60" stroke="#222" stroke-width="1.1"/>
<line x1="341.60" y1="942.60" x2="341.60" y2="945.60" stroke="#222" stroke-width="1.1"/>
<line x1="348.20" y1="942.60" x2="348.20" y2="945.60" stroke="#222" stroke-width="1.1"/>
<line x1="354.80" y1="942.60" x2="354.80" y2="945.80" stroke="#111" stroke-width="2.0"/>
<line x1="361.40" y1="942.60" x2="361.40" y2="945.60" stroke="#222" stroke-width="1.1"/>
<line x1="368.00" y1="942.60" x2="368.00" y2="945.60" stroke="#222" stroke-width="1.1"/>
<line x1="374.60" y1="942.60" x2="374.60" y2="945.60" stroke="#222" stroke-width="1.1"/>
<line x1="381.20" y1="942.60" x2="381.20" y2="945.80" stroke="#111" stroke-width="2.0"/>
<line x1="387.80" y1="942.60" x2="387.80" y2="945.60" stroke="#222" stroke-width="1.1"/>
<line x1="394.40" y1="942.60" x2="394.40" y2="945.60" stroke="#222" stroke-width="1.1"/>
<line x1="401.00" y1="942.60" x2="401.00" y2="945.60" stroke="#222" stroke-width="1.1"/>
<line x1="407.60" y1="942.60" x2="407.60" y2="945.80" stroke="#111" stroke-width="2.0"/>
<line x1="414.20" y1="942.60" x2="414.20" y2="945.60" stroke="#222" stroke-width="1.1"/>
<line x1="420.80" y1="942.60" x2="420.80" y2="945.60" stroke="#222" stroke-width="1.1"/>
<line x1="427.40" y1="942.60" x2="427.40" y2="945.60" stroke="#222" stroke-width="1.1"/>
<rect x="267.30" y="962.40" width="171.70" height="8.00" fill="#fff" stroke="#222" stroke-width="1.0"/>
<rect x="321.60" y="962.40" width="79.50" height="8.00" fill="#000"/>
<polygon points="276.50,856.06 277.71,854.83 278.92,855.54 280.12,857.50 281.33,859.44 282.54,861.58 283.75,862.90 284.95,863.52 286.16,862.13 287.37,860.82 288.58,859.55 289.78,858.84 290.99,857.42 292.20,856.96 293.41,856.52 294.62,856.43 295.82,856.78 297.03,857.64 298.24,858.08 299.45,858.67 300.65,859.38 301.86,859.81 303.07,859.61 304.28,860.23 305.48,860.55 306.69,859.71 307.90,859.56 309.11,858.31 310.32,857.55 311.52,856.64 312.73,855.20 313.94,854.68 315.15,853.62 316.35,852.45 317.56,852.42 318.77,852.29 319.98,849.98 321.18,848.29 322.39,845.70 323.60,841.42 324.81,836.23 326.02,828.83 327.22,823.46 328.43,816.80 329.64,811.48 330.85,808.18 332.05,803.92 333.26,802.00 334.47,801.25 335.68,800.76 336.88,800.66 338.09,800.14 339.30,801.05 340.51,800.90 341.72,801.97 342.92,801.73 344.13,802.31 345.34,803.52 346.55,803.74 347.75,803.32 348.96,803.38 350.17,803.43 351.38,803.84 352.58,804.31 353.79,804.98 355.00,806.95 356.21,806.92 357.42,808.61 358.62,808.21 359.83,809.19 361.04,808.08 362.25,808.17 363.45,808.31 364.66,808.67 365.87,809.39 367.08,810.79 368.28,812.49 369.49,813.94 370.70,815.07 371.91,816.50 373.12,819.43 374.32,822.93 375.53,824.64 376.74,827.59 377.95,831.51 379.15,835.44 380.36,837.59 381.57,840.68 382.78,840.73 383.98,840.91 385.19,840.17 386.40,838.47 387.61,838.45 388.82,836.47 390.02,834.32 391.23,833.49 392.44,830.55 393.65,828.05 394.85,827.29 396.06,825.63 397.27,825.39 398.48,823.72 399.68,823.01 400.89,821.73 402.10,822.38 403.31,821.16 404.52,822.99 405.72,823.73 406.93,827.66 408.14,832.23 409.35,835.04 410.55,839.53 411.76,842.99 412.97,845.18 414.18,847.93 415.38,850.23 416.59,850.73 417.80,853.72 419.01,855.70 420.22,856.84 421.42,857.76 422.63,858.62 423.84,860.51 425.05,861.21 426.25,862.66 427.46,863.03 428.67,863.47 429.88,864.31 431.08,864.87 432.29,865.86 433.50,866.10 433.50,873.72 432.29,873.17 431.08,872.59 429.88,871.58 428.67,870.82 427.46,869.49 426.25,867.94 425.05,867.36 423.84,866.03 422.63,865.90 421.42,864.69 420.22,863.00 419.01,861.00 417.80,859.35 416.59,858.70 415.38,855.55 414.18,854.21 412.97,852.32 411.76,848.70 410.55,845.17 409.35,842.51 408.14,838.15 406.93,835.52 405.72,833.58 404.52,830.86 403.31,831.64 402.10,830.42 400.89,831.41 399.68,831.29 398.48,832.53 397.27,833.28 396.06,835.44 394.85,836.27 393.65,838.31 392.44,838.94 391.23,839.37 390.02,841.91 388.82,843.13 387.61,843.94 386.40,846.12 385.19,846.01 383.98,846.87 382.78,847.76 381.57,846.04 380.36,844.88 379.15,841.18 377.95,839.26 376.74,837.42 375.53,834.73 374.32,830.94 373.12,828.98 371.91,826.92 370.70,824.30 369.49,822.33 368.28,821.16 367.08,820.23 365.87,819.01 364.66,817.92 363.45,817.52 362.25,817.95 361.04,818.56 359.83,817.86 358.62,818.56 357.42,817.16 356.21,817.27 355.00,815.22 353.79,814.74 352.58,813.02 351.38,812.26 350.17,812.59 348.96,813.20 347.75,813.70 346.55,813.13 345.34,812.61 344.13,812.62 342.92,812.00 341.72,810.76 340.51,811.03 339.30,810.25 338.09,810.53 336.88,809.83 335.68,810.04 334.47,810.34 333.26,811.80 332.05,813.83 330.85,816.43 329.64,821.97 328.43,827.35 327.22,832.25 326.02,838.84 324.81,843.56 323.60,849.16 322.39,852.96 321.18,855.73 319.98,857.68 318.77,858.00 317.56,859.50 316.35,860.45 315.15,860.25 313.94,860.27 312.73,861.31 311.52,861.91 310.32,863.42 309.11,865.08 307.90,866.23 306.69,867.41 305.48,866.82 304.28,866.32 303.07,866.11 301.86,865.08 300.65,864.68 299.45,864.62 298.24,864.53 297.03,864.37 295.82,864.64 294.62,864.42 293.41,863.75 292.20,863.26 290.99,863.82 289.78,864.48 288.58,866.38 287.37,867.72 286.16,869.02 284.95,869.59 283.75,869.97 282.54,868.84 281.33,866.98 280.12,862.94 278.92,860.90 277.71,862.68 276.50,863.94" fill="#858585" />
<polygon points="276.50,864.06 277.71,864.23 278.92,864.27 280.12,863.35 281.33,863.35 282.54,862.93 283.75,861.50 284.95,859.90 286.16,859.95 287.37,858.31 288.58,858.10 289.78,858.37 290.99,860.24 292.20,860.85 293.41,863.58 294.62,864.84 295.82,865.86 297.03,866.01 298.24,863.67 299.45,862.51 300.65,860.88 301.86,859.26 303.07,858.18 304.28,858.11 305.48,857.84 306.69,858.49 307.90,858.31 309.11,858.48 310.32,858.10 311.52,858.47 312.73,857.45 313.94,856.99 315.15,855.75 316.35,854.88 317.56,853.75 318.77,852.99 319.98,852.20 321.18,849.61 322.39,846.18 323.60,842.91 324.81,838.22 326.02,832.42 327.22,826.13 328.43,820.40 329.64,816.73 330.85,813.12 332.05,810.13 333.26,808.17 334.47,807.44 335.68,806.67 336.88,806.75 338.09,806.97 339.30,806.70 340.51,807.71 341.72,807.34 342.92,807.86 344.13,808.79 345.34,809.80 346.55,810.28 347.75,810.78 348.96,812.07 350.17,812.05 351.38,812.34 352.58,813.23 353.79,813.76 355.00,812.55 356.21,812.33 357.42,810.66 358.62,808.65 359.83,807.63 361.04,806.62 362.25,804.19 363.45,804.32 364.66,805.11 365.87,805.50 367.08,807.93 368.28,809.25 369.49,810.11 370.70,812.09 371.91,815.03 373.12,816.70 374.32,819.17 375.53,821.58 376.74,824.74 377.95,827.24 379.15,832.46 380.36,835.36 381.57,837.52 382.78,837.59 383.98,838.22 385.19,836.19 386.40,835.90 387.61,834.33 388.82,833.59 390.02,832.53 391.23,829.86 392.44,829.41 393.65,829.40 394.85,829.72 396.06,830.81 397.27,832.23 398.48,833.71 399.68,834.32 400.89,835.52 402.10,837.05 403.31,836.66 404.52,836.99 405.72,837.59 406.93,838.50 408.14,839.36 409.35,839.93 410.55,840.16 411.76,841.67 412.97,842.44 414.18,844.01 415.38,845.16 416.59,847.19 417.80,848.83 419.01,850.78 420.22,853.17 421.42,854.70 422.63,855.58 423.84,857.12 425.05,858.11 426.25,858.98 427.46,859.77 428.67,861.20 429.88,861.70 431.08,863.50 432.29,863.92 433.50,863.41 433.50,871.40 432.29,870.11 431.08,868.97 429.88,869.19 428.67,868.04 427.46,867.54 426.25,866.08 425.05,864.51 423.84,863.05 422.63,862.15 421.42,860.55 420.22,859.20 419.01,858.32 417.80,856.64 416.59,854.64 415.38,853.03 414.18,850.54 412.97,849.11 411.76,847.62 410.55,847.60 409.35,846.41 408.14,845.56 406.93,845.10 405.72,844.82 404.52,844.37 403.31,843.71 402.10,842.32 400.89,842.66 399.68,842.20 398.48,840.70 397.27,839.81 396.06,838.84 394.85,837.86 393.65,837.54 392.44,838.31 391.23,839.77 390.02,839.03 388.82,839.88 387.61,841.13 386.40,841.64 385.19,843.51 383.98,843.64 382.78,845.41 381.57,843.76 380.36,841.36 379.15,837.86 377.95,836.69 376.74,833.12 375.53,830.74 374.32,828.12 373.12,825.76 371.91,822.87 370.70,821.78 369.49,820.27 368.28,817.91 367.08,816.01 365.87,815.22 364.66,812.97 363.45,813.17 362.25,814.75 361.04,815.23 359.83,817.14 358.62,819.03 357.42,819.92 356.21,821.16 355.00,822.60 353.79,821.82 352.58,821.53 351.38,821.61 350.17,821.02 348.96,820.02 347.75,820.21 346.55,819.52 345.34,818.82 344.13,818.63 342.92,818.36 341.72,817.68 340.51,816.10 339.30,816.30 338.09,815.63 336.88,815.85 335.68,815.93 334.47,815.85 333.26,816.62 332.05,818.44 330.85,821.20 329.64,825.20 328.43,830.23 327.22,834.24 326.02,838.76 324.81,843.52 323.60,848.12 322.39,852.86 321.18,856.00 319.98,858.12 318.77,860.17 317.56,861.19 316.35,861.83 315.15,862.60 313.94,862.89 312.73,863.89 311.52,864.32 310.32,866.09 309.11,866.30 307.90,866.26 306.69,865.12 305.48,864.81 304.28,863.58 303.07,863.83 301.86,864.56 300.65,866.23 299.45,868.10 298.24,870.44 297.03,871.26 295.82,872.24 294.62,871.74 293.41,869.51 292.20,868.74 290.99,865.84 289.78,865.01 288.58,864.40 287.37,865.15 286.16,865.51 284.95,867.55 283.75,867.95 282.54,868.42 281.33,869.43 280.12,870.40 278.92,870.10 277.71,870.75 276.50,871.23" fill="#858585" />
<polyline points="276.50,867.65 277.71,867.49 278.92,867.18 280.12,866.88 281.33,866.39 282.54,865.67 283.75,864.73 284.95,863.73 286.16,862.73 287.37,861.73 288.58,861.25 289.78,861.69 290.99,863.04 292.20,864.79 293.41,866.54 294.62,868.29 295.82,869.05 297.03,868.64 298.24,867.06 299.45,865.31 300.65,863.56 301.86,861.91 303.07,861.01 304.28,860.85 305.48,861.33 306.69,861.80 307.90,862.28 309.11,862.39 310.32,862.10 311.52,861.40 312.73,860.67 313.94,859.94 315.15,859.17 316.35,858.35 317.56,857.47 318.77,856.58 319.98,855.16 321.18,852.81 322.39,849.52 323.60,845.51 324.81,840.87 326.02,835.59 327.22,830.19 328.43,825.31 329.64,820.97 330.85,817.16 332.05,814.28 333.26,812.39 334.47,811.65 335.68,811.30 336.88,811.30 338.09,811.30 339.30,811.50 340.51,811.90 341.72,812.51 342.92,813.11 344.13,813.71 345.34,814.31 346.55,814.90 347.75,815.49 348.96,816.05 350.17,816.54 351.38,816.97 352.58,817.38 353.79,817.79 355.00,817.58 356.21,816.75 357.42,815.29 358.62,813.84 359.83,812.38 361.04,810.93 362.25,809.47 363.45,808.75 364.66,809.04 365.87,810.36 367.08,811.97 368.28,813.58 369.49,815.19 370.70,816.94 371.91,818.95 373.12,821.23 374.32,823.65 375.53,826.16 376.74,828.93 377.95,831.96 379.15,835.16 380.36,838.36 381.57,840.64 382.78,841.50 383.98,840.93 385.19,839.85 386.40,838.77 387.61,837.73 388.82,836.74 390.02,835.78 391.23,834.82 392.44,833.86 393.65,833.47 394.85,833.79 396.06,834.83 397.27,836.02 398.48,837.20 399.68,838.26 400.89,839.09 402.10,839.68 403.31,840.18 404.52,840.68 405.72,841.20 406.93,841.80 408.14,842.46 409.35,843.17 410.55,843.88 411.76,844.64 412.97,845.77 414.18,847.27 415.38,849.09 416.59,850.91 417.80,852.73 419.01,854.55 420.22,856.19 421.42,857.62 422.63,858.86 423.84,860.09 425.05,861.31 426.25,862.53 427.46,863.65 428.67,864.62 429.88,865.45 431.08,866.23 432.29,867.02 433.50,867.41" fill="none" stroke="#40c0d0" stroke-width="2.2" stroke-linejoin="round" />
<polyline points="276.50,860.00 277.71,858.75 278.92,858.22 280.12,860.22 281.33,863.21 282.54,865.21 283.75,866.43 284.95,866.55 286.16,865.57 287.37,864.27 288.58,862.96 289.78,861.66 290.99,860.62 292.20,860.11 293.41,860.13 294.62,860.42 295.82,860.71 297.03,861.00 298.24,861.31 299.45,861.65 300.65,862.03 301.86,862.44 303.07,862.86 304.28,863.27 305.48,863.68 306.69,863.56 307.90,862.90 309.11,861.69 310.32,860.48 311.52,859.28 312.73,858.26 313.94,857.48 315.15,856.93 316.35,856.45 317.56,855.96 318.77,855.15 319.98,853.83 321.18,852.01 322.39,849.33 323.60,845.29 324.81,839.90 326.02,833.83 327.22,827.85 328.43,822.08 329.64,816.72 330.85,812.30 332.05,808.87 333.26,806.90 334.47,805.80 335.68,805.40 336.88,805.25 338.09,805.34 339.30,805.65 340.51,805.96 341.72,806.37 342.92,806.87 344.13,807.47 345.34,808.07 346.55,808.44 347.75,808.51 348.96,808.29 350.17,808.01 351.38,808.05 352.58,808.67 353.79,809.86 355.00,811.08 356.21,812.09 357.42,812.89 358.62,813.38 359.83,813.53 361.04,813.32 362.25,813.06 363.45,812.92 364.66,813.29 365.87,814.20 367.08,815.51 368.28,816.82 369.49,818.14 370.70,819.69 371.91,821.71 373.12,824.20 374.32,826.93 375.53,829.69 376.74,832.50 377.95,835.39 379.15,838.31 380.36,841.23 381.57,843.36 382.78,844.24 383.98,843.89 385.19,843.09 386.40,842.29 387.61,841.19 388.82,839.80 390.02,838.12 391.23,836.43 392.44,834.74 393.65,833.18 394.85,831.78 396.06,830.54 397.27,829.33 398.48,828.12 399.68,827.15 400.89,826.57 402.10,826.40 403.31,826.40 404.52,826.92 405.72,828.65 406.93,831.59 408.14,835.19 409.35,838.77 410.55,842.35 411.76,845.84 412.97,848.75 414.18,851.07 415.38,852.89 416.59,854.71 417.80,856.53 419.01,858.35 420.22,859.92 421.42,861.22 422.63,862.26 423.84,863.27 425.05,864.29 426.25,865.30 427.46,866.26 428.67,867.14 429.88,867.95 431.08,868.73 432.29,869.52 433.50,869.91" fill="none" stroke="#5a50e0" stroke-width="2.2" stroke-linejoin="round" />
<circle cx="276.50" cy="860.00" r="0.55" fill="#dcdcff"/>
<circle cx="276.50" cy="867.65" r="0.55" fill="#e0ffff"/>
<circle cx="278.92" cy="858.22" r="0.55" fill="#dcdcff"/>
<circle cx="278.92" cy="867.18" r="0.55" fill="#e0ffff"/>
<circle cx="281.33" cy="863.21" r="0.55" fill="#dcdcff"/>
<circle cx="281.33" cy="866.39" r="0.55" fill="#e0ffff"/>
<circle cx="283.75" cy="866.43" r="0.55" fill="#dcdcff"/>
<circle cx="283.75" cy="864.73" r="0.55" fill="#e0ffff"/>
<circle cx="286.16" cy="865.57" r="0.55" fill="#dcdcff"/>
<circle cx="286.16" cy="862.73" r="0.55" fill="#e0ffff"/>
<circle cx="288.58" cy="862.96" r="0.55" fill="#dcdcff"/>
<circle cx="288.58" cy="861.25" r="0.55" fill="#e0ffff"/>
<circle cx="290.99" cy="860.62" r="0.55" fill="#dcdcff"/>
<circle cx="290.99" cy="863.04" r="0.55" fill="#e0ffff"/>
<circle cx="293.41" cy="860.13" r="0.55" fill="#dcdcff"/>
<circle cx="293.41" cy="866.54" r="0.55" fill="#e0ffff"/>
<circle cx="295.82" cy="860.71" r="0.55" fill="#dcdcff"/>
<circle cx="295.82" cy="869.05" r="0.55" fill="#e0ffff"/>
<circle cx="298.24" cy="861.31" r="0.55" fill="#dcdcff"/>
<circle cx="298.24" cy="867.06" r="0.55" fill="#e0ffff"/>
<circle cx="300.65" cy="862.03" r="0.55" fill="#dcdcff"/>
<circle cx="300.65" cy="863.56" r="0.55" fill="#e0ffff"/>
<circle cx="303.07" cy="862.86" r="0.55" fill="#dcdcff"/>
<circle cx="303.07" cy="861.01" r="0.55" fill="#e0ffff"/>
<circle cx="305.48" cy="863.68" r="0.55" fill="#dcdcff"/>
<circle cx="305.48" cy="861.33" r="0.55" fill="#e0ffff"/>
<circle cx="307.90" cy="862.90" r="0.55" fill="#dcdcff"/>
<circle cx="307.90" cy="862.28" r="0.55" fill="#e0ffff"/>
<circle cx="310.32" cy="860.48" r="0.55" fill="#dcdcff"/>
<circle cx="310.32" cy="862.10" r="0.55" fill="#e0ffff"/>
<circle cx="312.73" cy="858.26" r="0.55" fill="#dcdcff"/>
<circle cx="312.73" cy="860.67" r="0.55" fill="#e0ffff"/>
<circle cx="315.15" cy="856.93" r="0.55" fill="#dcdcff"/>
<circle cx="315.15" cy="859.17" r="0.55" fill="#e0ffff"/>
<circle cx="317.56" cy="855.96" r="0.55" fill="#dcdcff"/>
<circle cx="317.56" cy="857.47" r="0.55" fill="#e0ffff"/>
<circle cx="319.98" cy="853.83" r="0.55" fill="#dcdcff"/>
<circle cx="319.98" cy="855.16" r="0.55" fill="#e0ffff"/>
<circle cx="322.39" cy="849.33" r="0.55" fill="#dcdcff"/>
<circle cx="322.39" cy="849.52" r="0.55" fill="#e0ffff"/>
<circle cx="324.81" cy="839.90" r="0.55" fill="#dcdcff"/>
<circle cx="324.81" cy="840.87" r="0.55" fill="#e0ffff"/>
<circle cx="327.22" cy="827.85" r="0.55" fill="#dcdcff"/>
<circle cx="327.22" cy="830.19" r="0.55" fill="#e0ffff"/>
<circle cx="329.64" cy="816.72" r="0.55" fill="#dcdcff"/>
<circle cx="329.64" cy="820.97" r="0.55" fill="#e0ffff"/>
<circle cx="332.05" cy="808.87" r="0.55" fill="#dcdcff"/>
<circle cx="332.05" cy="814.28" r="0.55" fill="#e0ffff"/>
<circle cx="334.47" cy="805.80" r="0.55" fill="#dcdcff"/>
<circle cx="334.47" cy="811.65" r="0.55" fill="#e0ffff"/>
<circle cx="336.88" cy="805.25" r="0.55" fill="#dcdcff"/>
<circle cx="336.88" cy="811.30" r="0.55" fill="#e0ffff"/>
<circle cx="339.30" cy="805.65" r="0.55" fill="#dcdcff"/>
<circle cx="339.30" cy="811.50" r="0.55" fill="#e0ffff"/>
<circle cx="341.72" cy="806.37" r="0.55" fill="#dcdcff"/>
<circle cx="341.72" cy="812.51" r="0.55" fill="#e0ffff"/>
<circle cx="344.13" cy="807.47" r="0.55" fill="#dcdcff"/>
<circle cx="344.13" cy="813.71" r="0.55" fill="#e0ffff"/>
<circle cx="346.55" cy="808.44" r="0.55" fill="#dcdcff"/>
<circle cx="346.55" cy="814.90" r="0.55" fill="#e0ffff"/>
<circle cx="348.96" cy="808.29" r="0.55" fill="#dcdcff"/>
<circle cx="348.96" cy="816.05" r="0.55" fill="#e0ffff"/>
<circle cx="351.38" cy="808.05" r="0.55" fill="#dcdcff"/>
<circle cx="351.38" cy="816.97" r="0.55" fill="#e0ffff"/>
<circle cx="353.79" cy="809.86" r="0.55" fill="#dcdcff"/>
<circle cx="353.79" cy="817.79" r="0.55" fill="#e0ffff"/>
<circle cx="356.21" cy="812.09" r="0.55" fill="#dcdcff"/>
<circle cx="356.21" cy="816.75" r="0.55" fill="#e0ffff"/>
<circle cx="358.62" cy="813.38" r="0.55" fill="#dcdcff"/>
<circle cx="358.62" cy="813.84" r="0.55" fill="#e0ffff"/>
<circle cx="361.04" cy="813.32" r="0.55" fill="#dcdcff"/>
<circle cx="361.04" cy="810.93" r="0.55" fill="#e0ffff"/>
<circle cx="363.45" cy="812.92" r="0.55" fill="#dcdcff"/>
<circle cx="363.45" cy="808.75" r="0.55" fill="#e0ffff"/>
<circle cx="365.87" cy="814.20" r="0.55" fill="#dcdcff"/>
<circle cx="365.87" cy="810.36" r="0.55" fill="#e0ffff"/>
<circle cx="368.28" cy="816.82" r="0.55" fill="#dcdcff"/>
<circle cx="368.28" cy="813.58" r="0.55" fill="#e0ffff"/>
<circle cx="370.70" cy="819.69" r="0.55" fill="#dcdcff"/>
<circle cx="370.70" cy="816.94" r="0.55" fill="#e0ffff"/>
<circle cx="373.12" cy="824.20" r="0.55" fill="#dcdcff"/>
<circle cx="373.12" cy="821.23" r="0.55" fill="#e0ffff"/>
<circle cx="375.53" cy="829.69" r="0.55" fill="#dcdcff"/>
<circle cx="375.53" cy="826.16" r="0.55" fill="#e0ffff"/>
<circle cx="377.95" cy="835.39" r="0.55" fill="#dcdcff"/>
<circle cx="377.95" cy="831.96" r="0.55" fill="#e0ffff"/>
<circle cx="380.36" cy="841.23" r="0.55" fill="#dcdcff"/>
<circle cx="380.36" cy="838.36" r="0.55" fill="#e0ffff"/>
<circle cx="382.78" cy="844.24" r="0.55" fill="#dcdcff"/>
<circle cx="382.78" cy="841.50" r="0.55" fill="#e0ffff"/>
<circle cx="385.19" cy="843.09" r="0.55" fill="#dcdcff"/>
<circle cx="385.19" cy="839.85" r="0.55" fill="#e0ffff"/>
<circle cx="387.61" cy="841.19" r="0.55" fill="#dcdcff"/>
<circle cx="387.61" cy="837.73" r="0.55" fill="#e0ffff"/>
<circle cx="390.02" cy="838.12" r="0.55" fill="#dcdcff"/>
<circle cx="390.02" cy="835.78" r="0.55" fill="#e0ffff"/>
<circle cx="392.44" cy="834.74" r="0.55" fill="#dcdcff"/>
<circle cx="392.44" cy="833.86" r="0.55" fill="#e0ffff"/>
<circle cx="394.85" cy="831.78" r="0.55" fill="#dcdcff"/>
<circle cx="394.85" cy="833.79" r="0.55" fill="#e0ffff"/>
<circle cx="397.27" cy="829.33" r="0.55" fill="#dcdcff"/>
<circle cx="397.27" cy="836.02" r="0.55" fill="#e0ffff"/>
<circle cx="399.68" cy="827.15" r="0.55" fill="#dcdcff"/>
<circle cx="399.68" cy="838.26" r="0.55" fill="#e0ffff"/>
<circle cx="402.10" cy="826.40" r="0.55" fill="#dcdcff"/>
<circle cx="402.10" cy="839.68" r="0.55" fill="#e0ffff"/>
<circle cx="404.52" cy="826.92" r="0.55" fill="#dcdcff"/>
<circle cx="404.52" cy="840.68" r="0.55" fill="#e0ffff"/>
<circle cx="406.93" cy="831.59" r="0.55" fill="#dcdcff"/>
<circle cx="406.93" cy="841.80" r="0.55" fill="#e0ffff"/>
<circle cx="409.35" cy="838.77" r="0.55" fill="#dcdcff"/>
<circle cx="409.35" cy="843.17" r="0.55" fill="#e0ffff"/>
<circle cx="411.76" cy="845.84" r="0.55" fill="#dcdcff"/>
<circle cx="411.76" cy="844.64" r="0.55" fill="#e0ffff"/>
<circle cx="414.18" cy="851.07" r="0.55" fill="#dcdcff"/>
<circle cx="414.18" cy="847.27" r="0.55" fill="#e0ffff"/>
<circle cx="416.59" cy="854.71" r="0.55" fill="#dcdcff"/>
<circle cx="416.59" cy="850.91" r="0.55" fill="#e0ffff"/>
<circle cx="419.01" cy="858.35" r="0.55" fill="#dcdcff"/>
<circle cx="419.01" cy="854.55" r="0.55" fill="#e0ffff"/>
<circle cx="421.42" cy="861.22" r="0.55" fill="#dcdcff"/>
<circle cx="421.42" cy="857.62" r="0.55" fill="#e0ffff"/>
<circle cx="423.84" cy="863.27" r="0.55" fill="#dcdcff"/>
<circle cx="423.84" cy="860.09" r="0.55" fill="#e0ffff"/>
<circle cx="426.25" cy="865.30" r="0.55" fill="#dcdcff"/>
<circle cx="426.25" cy="862.53" r="0.55" fill="#e0ffff"/>
<circle cx="428.67" cy="867.14" r="0.55" fill="#dcdcff"/>
<circle cx="428.67" cy="864.62" r="0.55" fill="#e0ffff"/>
<circle cx="431.08" cy="868.73" r="0.55" fill="#dcdcff"/>
<circle cx="431.08" cy="866.23" r="0.55" fill="#e0ffff"/>
<circle cx="433.50" cy="869.91" r="0.55" fill="#dcdcff"/>
<circle cx="433.50" cy="867.41" r="0.55" fill="#e0ffff"/>
<circle cx="283.50" cy="912.2" r="3.7" fill="none" stroke="#2a3a8a" stroke-width="1.4"/>
<circle cx="283.50" cy="926.2" r="3.7" fill="none" stroke="#2a9aa0" stroke-width="1.4"/>
<text x="291.50" y="915.60" font-size="9.5" text-anchor="start" font-style="italic" fill="#1a1a1a" >WT</text>
<text x="291.50" y="929.60" font-size="9.5" text-anchor="start" font-style="italic" fill="#1a1a1a" >Aox4<tspan dy="-3" font-size="7">-/-</tspan></text>
<text x="0" y="0" font-size="10" letter-spacing="1.1" text-anchor="middle" fill="#1a1a1a" transform="translate(236.00,869) rotate(-90)">liters/acq</text>
<path d="M291.30,851.80L291.30,855.80M289.57,852.80L293.03,854.80M293.03,852.80L289.57,854.80" stroke="#666" stroke-width="1.1" fill="none"/>
<path d="M350.60,798.60L350.60,802.60M348.87,799.60L352.33,801.60M352.33,799.60L348.87,801.60" stroke="#666" stroke-width="1.1" fill="none"/>
<path d="M404.00,813.70L404.00,817.70M402.27,814.70L405.73,816.70M405.73,814.70L402.27,816.70" stroke="#666" stroke-width="1.1" fill="none"/>
<rect x="501.30" y="791.80" width="170.20" height="150.60" fill="#fff" stroke="#111" stroke-width="1.3"/>
<text x="575.3" y="785" font-size="12.5" font-weight="bold" fill="#1a1a1a" text-anchor="middle">energy expenditure</text>
<line x1="498.80" y1="804.20" x2="501.30" y2="804.20" stroke="#222" stroke-width="1"/>
<text x="498.10" y="807.70" font-size="9.8" text-anchor="end" fill="#1a1a1a" >1.0e-2</text>
<line x1="498.80" y1="836.80" x2="501.30" y2="836.80" stroke="#222" stroke-width="1"/>
<text x="498.10" y="840.30" font-size="9.8" text-anchor="end" fill="#1a1a1a" >7.5e-3</text>
<line x1="498.80" y1="869.60" x2="501.30" y2="869.60" stroke="#222" stroke-width="1"/>
<text x="498.10" y="873.10" font-size="9.8" text-anchor="end" fill="#1a1a1a" >5.0e-3</text>
<line x1="498.80" y1="903.10" x2="501.30" y2="903.10" stroke="#222" stroke-width="1"/>
<text x="498.10" y="906.60" font-size="9.8" text-anchor="end" fill="#1a1a1a" >2.5e-3</text>
<line x1="498.80" y1="936.50" x2="501.30" y2="936.50" stroke="#222" stroke-width="1"/>
<text x="498.10" y="940.00" font-size="9.8" text-anchor="end" fill="#1a1a1a" >0</text>
<text x="487.90" y="957.20" font-size="10.5" text-anchor="middle" fill="#1a1a1a" >ZT</text>
<text x="500.40" y="957.20" font-size="10.5" text-anchor="middle" fill="#1a1a1a" >4</text>
<text x="541.40" y="957.20" font-size="10.5" text-anchor="middle" fill="#1a1a1a" >10</text>
<text x="581.70" y="957.20" font-size="10.5" text-anchor="middle" fill="#1a1a1a" >16</text>
<text x="620.20" y="957.20" font-size="10.5" text-anchor="middle" fill="#1a1a1a" >22</text>
<text x="660.50" y="957.20" font-size="10.5" text-anchor="middle" fill="#1a1a1a" >4</text>
<line x1="500.40" y1="942.40" x2="500.40" y2="945.40" stroke="#222" stroke-width="1.1"/>
<line x1="507.23" y1="942.40" x2="507.23" y2="945.60" stroke="#111" stroke-width="2.0"/>
<line x1="514.07" y1="942.40" x2="514.07" y2="945.40" stroke="#222" stroke-width="1.1"/>
<line x1="520.90" y1="942.40" x2="520.90" y2="945.40" stroke="#222" stroke-width="1.1"/>
<line x1="527.73" y1="942.40" x2="527.73" y2="945.40" stroke="#222" stroke-width="1.1"/>
<line x1="534.57" y1="942.40" x2="534.57" y2="945.60" stroke="#111" stroke-width="2.0"/>
<line x1="541.40" y1="942.40" x2="541.40" y2="945.40" stroke="#222" stroke-width="1.1"/>
<line x1="548.23" y1="942.40" x2="548.23" y2="945.40" stroke="#222" stroke-width="1.1"/>
<line x1="555.07" y1="942.40" x2="555.07" y2="945.40" stroke="#222" stroke-width="1.1"/>
<line x1="561.90" y1="942.40" x2="561.90" y2="945.60" stroke="#111" stroke-width="2.0"/>
<line x1="568.73" y1="942.40" x2="568.73" y2="945.40" stroke="#222" stroke-width="1.1"/>
<line x1="575.57" y1="942.40" x2="575.57" y2="945.40" stroke="#222" stroke-width="1.1"/>
<line x1="582.40" y1="942.40" x2="582.40" y2="945.40" stroke="#222" stroke-width="1.1"/>
<line x1="589.23" y1="942.40" x2="589.23" y2="945.60" stroke="#111" stroke-width="2.0"/>
<line x1="596.07" y1="942.40" x2="596.07" y2="945.40" stroke="#222" stroke-width="1.1"/>
<line x1="602.90" y1="942.40" x2="602.90" y2="945.40" stroke="#222" stroke-width="1.1"/>
<line x1="609.73" y1="942.40" x2="609.73" y2="945.40" stroke="#222" stroke-width="1.1"/>
<line x1="616.57" y1="942.40" x2="616.57" y2="945.60" stroke="#111" stroke-width="2.0"/>
<line x1="623.40" y1="942.40" x2="623.40" y2="945.40" stroke="#222" stroke-width="1.1"/>
<line x1="630.23" y1="942.40" x2="630.23" y2="945.40" stroke="#222" stroke-width="1.1"/>
<line x1="637.07" y1="942.40" x2="637.07" y2="945.40" stroke="#222" stroke-width="1.1"/>
<line x1="643.90" y1="942.40" x2="643.90" y2="945.60" stroke="#111" stroke-width="2.0"/>
<line x1="650.73" y1="942.40" x2="650.73" y2="945.40" stroke="#222" stroke-width="1.1"/>
<line x1="657.57" y1="942.40" x2="657.57" y2="945.40" stroke="#222" stroke-width="1.1"/>
<line x1="664.40" y1="942.40" x2="664.40" y2="945.40" stroke="#222" stroke-width="1.1"/>
<rect x="500.40" y="962.40" width="169.90" height="8.00" fill="#fff" stroke="#222" stroke-width="1.0"/>
<rect x="554.30" y="962.40" width="78.90" height="8.00" fill="#000"/>
<polygon points="508.50,845.39 509.71,843.59 510.92,843.52 512.12,845.92 513.33,849.63 514.54,852.75 515.75,854.95 516.95,854.90 518.16,855.38 519.37,853.66 520.58,850.43 521.78,849.00 522.99,846.85 524.20,846.77 525.41,847.02 526.62,848.72 527.82,849.06 529.03,849.75 530.24,851.20 531.45,851.73 532.65,852.52 533.86,853.95 535.07,853.57 536.28,854.39 537.48,855.39 538.69,855.67 539.90,853.73 541.11,852.83 542.32,851.02 543.52,849.34 544.73,848.66 545.94,848.11 547.15,849.24 548.35,849.15 549.56,850.13 550.77,849.30 551.98,848.27 553.18,846.92 554.39,843.42 555.60,839.20 556.81,833.61 558.02,828.15 559.22,822.56 560.43,817.27 561.64,811.35 562.85,806.84 564.05,803.31 565.26,800.34 566.47,798.84 567.68,798.02 568.88,798.94 570.09,799.20 571.30,799.85 572.51,800.17 573.72,801.08 574.92,802.25 576.13,801.73 577.34,802.04 578.55,802.57 579.75,803.49 580.96,803.82 582.17,805.17 583.38,805.08 584.58,806.26 585.79,807.48 587.00,808.73 588.21,808.68 589.42,809.67 590.62,811.58 591.83,810.62 593.04,810.59 594.25,810.28 595.45,809.53 596.66,808.87 597.87,809.29 599.08,811.45 600.28,811.65 601.49,813.44 602.70,813.74 603.91,815.99 605.12,817.40 606.32,819.67 607.53,822.78 608.74,824.63 609.95,828.21 611.15,832.50 612.36,834.44 613.57,837.10 614.78,837.47 615.98,836.52 617.19,835.14 618.40,834.67 619.61,833.46 620.82,829.36 622.02,828.21 623.23,825.39 624.44,823.56 625.65,822.63 626.85,821.17 628.06,820.06 629.27,818.92 630.48,818.03 631.68,817.25 632.89,816.54 634.10,815.69 635.31,815.98 636.52,816.34 637.72,817.50 638.93,821.02 640.14,824.40 641.35,826.82 642.55,832.05 643.76,835.22 644.97,838.63 646.18,840.15 647.38,841.53 648.59,843.93 649.80,844.70 651.01,846.29 652.22,848.45 653.42,848.75 654.63,849.80 655.84,850.31 657.05,851.57 658.25,851.88 659.46,852.64 660.67,854.45 661.88,855.20 663.08,855.14 664.29,855.55 665.50,856.95 665.50,862.85 664.29,863.44 663.08,862.24 661.88,860.57 660.67,859.71 659.46,859.91 658.25,859.06 657.05,857.76 655.84,857.41 654.63,856.31 653.42,855.71 652.22,853.82 651.01,853.26 649.80,851.63 648.59,849.18 647.38,848.36 646.18,846.52 644.97,843.86 643.76,841.96 642.55,838.71 641.35,837.36 640.14,833.05 638.93,829.48 637.72,827.32 636.52,825.35 635.31,825.20 634.10,826.12 632.89,826.08 631.68,826.62 630.48,827.50 629.27,828.53 628.06,829.31 626.85,830.25 625.65,831.48 624.44,833.88 623.23,835.88 622.02,836.89 620.82,839.59 619.61,838.78 618.40,840.31 617.19,842.05 615.98,842.86 614.78,843.22 613.57,842.38 612.36,841.32 611.15,837.92 609.95,836.87 608.74,835.22 607.53,832.00 606.32,830.22 605.12,827.66 603.91,824.71 602.70,823.55 601.49,821.37 600.28,821.17 599.08,819.37 597.87,819.54 596.66,818.83 595.45,818.16 594.25,818.50 593.04,819.54 591.83,820.66 590.62,819.63 589.42,820.24 588.21,818.87 587.00,816.71 585.79,816.08 584.58,815.66 583.38,815.21 582.17,813.56 580.96,813.61 579.75,812.88 578.55,812.90 577.34,812.54 576.13,811.94 574.92,810.51 573.72,810.76 572.51,810.75 571.30,810.05 570.09,809.60 568.88,808.65 567.68,808.35 566.47,808.28 565.26,809.78 564.05,812.09 562.85,815.72 561.64,820.57 560.43,825.92 559.22,832.11 558.02,837.18 556.81,841.51 555.60,845.00 554.39,849.00 553.18,852.39 551.98,855.93 550.77,857.12 549.56,856.57 548.35,856.59 547.15,855.54 545.94,855.89 544.73,855.86 543.52,857.00 542.32,858.23 541.11,859.35 539.90,861.36 538.69,860.96 537.48,861.43 536.28,861.25 535.07,860.89 533.86,859.33 532.65,859.60 531.45,859.00 530.24,857.87 529.03,857.38 527.82,856.04 526.62,854.34 525.41,854.01 524.20,853.30 522.99,854.39 521.78,855.51 520.58,858.42 519.37,859.52 518.16,861.31 516.95,862.44 515.75,860.18 514.54,858.13 513.33,856.58 512.12,852.81 510.92,849.76 509.71,850.31 508.50,851.26" fill="#858585" />
<polygon points="508.50,854.41 509.71,854.06 510.92,854.14 512.12,853.77 513.33,853.40 514.54,852.72 515.75,851.64 516.95,851.24 518.16,850.33 519.37,848.97 520.58,849.67 521.78,849.36 522.99,850.39 524.20,852.60 525.41,854.33 526.62,855.13 527.82,857.14 529.03,857.34 530.24,856.03 531.45,854.00 532.65,853.17 533.86,851.20 535.07,849.52 536.28,847.68 537.48,848.01 538.69,848.13 539.90,850.19 541.11,851.05 542.32,851.00 543.52,850.28 544.73,849.74 545.94,848.85 547.15,848.14 548.35,847.23 549.56,847.87 550.77,847.32 551.98,846.91 553.18,846.28 554.39,843.40 555.60,839.06 556.81,835.06 558.02,828.64 559.22,824.17 560.43,819.63 561.64,814.84 562.85,809.93 564.05,807.33 565.26,804.85 566.47,803.75 567.68,803.44 568.88,803.75 570.09,803.32 571.30,804.89 572.51,805.81 573.72,805.42 574.92,806.42 576.13,807.10 577.34,808.59 578.55,808.47 579.75,809.09 580.96,810.69 582.17,810.59 583.38,811.12 584.58,812.03 585.79,812.90 587.00,813.13 588.21,812.19 589.42,810.72 590.62,809.31 591.83,806.94 593.04,805.73 594.25,803.37 595.45,803.53 596.66,802.44 597.87,803.86 599.08,804.95 600.28,806.41 601.49,807.82 602.70,809.86 603.91,812.56 605.12,813.79 606.32,817.01 607.53,819.21 608.74,820.99 609.95,823.38 611.15,825.68 612.36,827.08 613.57,829.11 614.78,830.16 615.98,830.06 617.19,828.67 618.40,828.67 619.61,827.41 620.82,826.90 622.02,825.72 623.23,823.85 624.44,822.05 625.65,821.56 626.85,819.84 628.06,819.57 629.27,820.40 630.48,821.27 631.68,823.31 632.89,823.35 634.10,823.94 635.31,825.99 636.52,826.58 637.72,827.44 638.93,827.90 640.14,828.84 641.35,829.57 642.55,829.94 643.76,833.16 644.97,834.27 646.18,835.70 647.38,837.52 648.59,839.42 649.80,839.97 651.01,841.96 652.22,844.60 653.42,845.32 654.63,846.62 655.84,847.63 657.05,848.59 658.25,849.20 659.46,850.24 660.67,851.45 661.88,852.52 663.08,853.13 664.29,854.22 665.50,854.02 665.50,860.78 664.29,859.77 663.08,859.25 661.88,858.25 660.67,857.67 659.46,857.09 658.25,856.21 657.05,854.78 655.84,853.71 654.63,852.70 653.42,851.93 652.22,850.04 651.01,849.55 649.80,847.90 648.59,844.81 647.38,843.07 646.18,841.25 644.97,839.63 643.76,838.37 642.55,839.91 641.35,838.69 640.14,837.83 638.93,837.18 637.72,836.00 636.52,835.14 635.31,833.93 634.10,834.15 632.89,832.91 631.68,831.13 630.48,831.38 629.27,830.46 628.06,829.95 626.85,829.85 625.65,829.84 624.44,832.14 623.23,833.14 622.02,834.07 620.82,835.69 619.61,837.40 618.40,837.80 617.19,838.88 615.98,838.57 614.78,838.91 613.57,838.62 612.36,837.51 611.15,834.64 609.95,832.65 608.74,830.65 607.53,827.85 606.32,825.29 605.12,823.67 603.91,820.40 602.70,819.27 601.49,818.14 600.28,816.72 599.08,815.34 597.87,813.60 596.66,812.77 595.45,811.46 594.25,813.44 593.04,814.34 591.83,816.39 590.62,817.30 589.42,819.15 588.21,820.94 587.00,821.74 585.79,822.16 584.58,821.69 583.38,821.27 582.17,820.48 580.96,819.11 579.75,819.49 578.55,818.93 577.34,817.60 576.13,817.66 574.92,816.69 573.72,815.86 572.51,813.62 571.30,813.13 570.09,813.70 568.88,812.69 567.68,812.42 566.47,812.72 565.26,813.62 564.05,815.89 562.85,819.96 561.64,823.46 560.43,827.79 559.22,832.93 558.02,838.69 556.81,842.05 555.60,846.52 554.39,849.38 553.18,851.99 551.98,854.46 550.77,854.78 549.56,853.60 548.35,853.91 547.15,853.68 545.94,854.68 544.73,856.20 543.52,857.96 542.32,858.02 541.11,857.19 539.90,855.86 538.69,855.72 537.48,854.44 536.28,855.21 535.07,855.65 533.86,857.30 532.65,858.66 531.45,861.16 530.24,862.45 529.03,863.07 527.82,863.01 526.62,862.58 525.41,860.16 524.20,858.67 522.99,857.65 521.78,856.16 520.58,854.94 519.37,856.34 518.16,856.59 516.95,857.28 515.75,858.50 514.54,858.95 513.33,859.48 512.12,859.99 510.92,860.23 509.71,860.92 508.50,860.88" fill="#858585" />
<polyline points="508.50,857.65 509.71,857.49 510.92,857.18 512.12,856.88 513.33,856.44 514.54,855.84 515.75,855.07 516.95,854.26 518.16,853.46 519.37,852.65 520.58,852.31 521.78,852.76 522.99,854.02 524.20,855.63 525.41,857.24 526.62,858.85 527.82,860.07 529.03,860.20 530.24,859.24 531.45,857.58 532.65,855.91 533.86,854.25 535.07,852.59 536.28,851.44 537.48,851.22 538.69,851.92 539.90,853.02 541.11,854.12 542.32,854.51 543.52,854.12 544.73,852.97 545.94,851.76 547.15,850.91 548.35,850.57 549.56,850.74 550.77,851.05 551.98,850.69 553.18,849.13 554.39,846.39 555.60,842.79 556.81,838.55 558.02,833.67 559.22,828.55 560.43,823.71 561.64,819.15 562.85,814.95 564.05,811.61 565.26,809.23 566.47,808.24 567.68,807.93 568.88,808.22 570.09,808.51 571.30,809.01 572.51,809.72 573.72,810.64 574.92,811.55 576.13,812.38 577.34,813.09 578.55,813.70 579.75,814.29 580.96,814.90 582.17,815.54 583.38,816.19 584.58,816.86 585.79,817.53 587.00,817.43 588.21,816.57 589.42,814.93 590.62,813.30 591.83,811.67 593.04,810.03 594.25,808.40 595.45,807.49 596.66,807.60 597.87,808.73 599.08,810.14 600.28,811.56 601.49,812.98 602.70,814.56 603.91,816.48 605.12,818.73 606.32,821.15 607.53,823.53 608.74,825.82 609.95,828.02 611.15,830.16 612.36,832.30 613.57,833.86 614.78,834.53 615.98,834.31 617.19,833.77 618.40,833.23 619.61,832.41 620.82,831.29 622.02,829.89 623.23,828.50 624.44,827.10 625.65,825.70 626.85,824.85 628.06,824.76 629.27,825.43 630.48,826.32 631.68,827.22 632.89,828.13 634.10,829.04 635.31,829.96 636.52,830.86 637.72,831.72 638.93,832.54 640.14,833.33 641.35,834.13 642.55,834.92 643.76,835.76 644.97,836.95 646.18,838.47 647.38,840.29 648.59,842.11 649.80,843.93 651.01,845.75 652.22,847.32 653.42,848.62 654.63,849.66 655.84,850.67 657.05,851.69 658.25,852.70 659.46,853.67 660.67,854.56 661.88,855.38 663.08,856.19 664.29,856.99 665.50,857.40" fill="none" stroke="#40c0d0" stroke-width="2.2" stroke-linejoin="round" />
<polyline points="508.50,848.32 509.71,846.95 510.92,846.64 512.12,849.37 513.33,853.11 514.54,855.44 515.75,857.57 516.95,858.67 518.16,858.34 519.37,856.59 520.58,854.42 521.78,852.26 522.99,850.62 524.20,850.04 525.41,850.52 526.62,851.53 527.82,852.55 529.03,853.56 530.24,854.54 531.45,855.37 532.65,856.06 533.86,856.64 535.07,857.23 536.28,857.82 537.48,858.41 538.69,858.32 539.90,857.54 541.11,856.09 542.32,854.63 543.52,853.17 544.73,852.26 545.94,852.00 547.15,852.39 548.35,852.87 549.56,853.35 550.77,853.21 551.98,852.10 553.18,849.65 554.39,846.21 555.60,842.10 556.81,837.56 558.02,832.67 559.22,827.34 560.43,821.59 561.64,815.96 562.85,811.28 564.05,807.70 565.26,805.06 566.47,803.56 567.68,803.19 568.88,803.79 570.09,804.40 571.30,804.95 572.51,805.46 573.72,805.92 574.92,806.38 576.13,806.83 577.34,807.29 578.55,807.74 579.75,808.19 580.96,808.72 582.17,809.37 583.38,810.14 584.58,810.96 585.79,811.78 587.00,812.72 588.21,813.78 589.42,814.95 590.62,815.60 591.83,815.64 593.04,815.06 594.25,814.39 595.45,813.84 596.66,813.85 597.87,814.41 599.08,815.41 600.28,816.41 601.49,817.41 602.70,818.64 603.91,820.35 605.12,822.53 606.32,824.95 607.53,827.39 608.74,829.92 609.95,832.54 611.15,835.21 612.36,837.88 613.57,839.74 614.78,840.34 615.98,839.69 617.19,838.59 618.40,837.49 619.61,836.12 620.82,834.47 622.02,832.55 623.23,830.64 624.44,828.72 625.65,827.06 626.85,825.71 628.06,824.68 629.27,823.73 630.48,822.77 631.68,821.93 632.89,821.31 634.10,820.91 635.31,820.59 636.52,820.85 637.72,822.41 638.93,825.25 640.14,828.72 641.35,832.09 642.55,835.38 643.76,838.59 644.97,841.24 646.18,843.34 647.38,844.95 648.59,846.56 649.80,848.17 651.01,849.78 652.22,851.14 653.42,852.23 654.63,853.05 655.84,853.86 657.05,854.66 658.25,855.47 659.46,856.27 660.67,857.08 661.88,857.88 663.08,858.69 664.29,859.49 665.50,859.90" fill="none" stroke="#5a50e0" stroke-width="2.2" stroke-linejoin="round" />
<circle cx="508.50" cy="848.32" r="0.55" fill="#dcdcff"/>
<circle cx="508.50" cy="857.65" r="0.55" fill="#e0ffff"/>
<circle cx="510.92" cy="846.64" r="0.55" fill="#dcdcff"/>
<circle cx="510.92" cy="857.18" r="0.55" fill="#e0ffff"/>
<circle cx="513.33" cy="853.11" r="0.55" fill="#dcdcff"/>
<circle cx="513.33" cy="856.44" r="0.55" fill="#e0ffff"/>
<circle cx="515.75" cy="857.57" r="0.55" fill="#dcdcff"/>
<circle cx="515.75" cy="855.07" r="0.55" fill="#e0ffff"/>
<circle cx="518.16" cy="858.34" r="0.55" fill="#dcdcff"/>
<circle cx="518.16" cy="853.46" r="0.55" fill="#e0ffff"/>
<circle cx="520.58" cy="854.42" r="0.55" fill="#dcdcff"/>
<circle cx="520.58" cy="852.31" r="0.55" fill="#e0ffff"/>
<circle cx="522.99" cy="850.62" r="0.55" fill="#dcdcff"/>
<circle cx="522.99" cy="854.02" r="0.55" fill="#e0ffff"/>
<circle cx="525.41" cy="850.52" r="0.55" fill="#dcdcff"/>
<circle cx="525.41" cy="857.24" r="0.55" fill="#e0ffff"/>
<circle cx="527.82" cy="852.55" r="0.55" fill="#dcdcff"/>
<circle cx="527.82" cy="860.07" r="0.55" fill="#e0ffff"/>
<circle cx="530.24" cy="854.54" r="0.55" fill="#dcdcff"/>
<circle cx="530.24" cy="859.24" r="0.55" fill="#e0ffff"/>
<circle cx="532.65" cy="856.06" r="0.55" fill="#dcdcff"/>
<circle cx="532.65" cy="855.91" r="0.55" fill="#e0ffff"/>
<circle cx="535.07" cy="857.23" r="0.55" fill="#dcdcff"/>
<circle cx="535.07" cy="852.59" r="0.55" fill="#e0ffff"/>
<circle cx="537.48" cy="858.41" r="0.55" fill="#dcdcff"/>
<circle cx="537.48" cy="851.22" r="0.55" fill="#e0ffff"/>
<circle cx="539.90" cy="857.54" r="0.55" fill="#dcdcff"/>
<circle cx="539.90" cy="853.02" r="0.55" fill="#e0ffff"/>
<circle cx="542.32" cy="854.63" r="0.55" fill="#dcdcff"/>
<circle cx="542.32" cy="854.51" r="0.55" fill="#e0ffff"/>
<circle cx="544.73" cy="852.26" r="0.55" fill="#dcdcff"/>
<circle cx="544.73" cy="852.97" r="0.55" fill="#e0ffff"/>
<circle cx="547.15" cy="852.39" r="0.55" fill="#dcdcff"/>
<circle cx="547.15" cy="850.91" r="0.55" fill="#e0ffff"/>
<circle cx="549.56" cy="853.35" r="0.55" fill="#dcdcff"/>
<circle cx="549.56" cy="850.74" r="0.55" fill="#e0ffff"/>
<circle cx="551.98" cy="852.10" r="0.55" fill="#dcdcff"/>
<circle cx="551.98" cy="850.69" r="0.55" fill="#e0ffff"/>
<circle cx="554.39" cy="846.21" r="0.55" fill="#dcdcff"/>
<circle cx="554.39" cy="846.39" r="0.55" fill="#e0ffff"/>
<circle cx="556.81" cy="837.56" r="0.55" fill="#dcdcff"/>
<circle cx="556.81" cy="838.55" r="0.55" fill="#e0ffff"/>
<circle cx="559.22" cy="827.34" r="0.55" fill="#dcdcff"/>
<circle cx="559.22" cy="828.55" r="0.55" fill="#e0ffff"/>
<circle cx="561.64" cy="815.96" r="0.55" fill="#dcdcff"/>
<circle cx="561.64" cy="819.15" r="0.55" fill="#e0ffff"/>
<circle cx="564.05" cy="807.70" r="0.55" fill="#dcdcff"/>
<circle cx="564.05" cy="811.61" r="0.55" fill="#e0ffff"/>
<circle cx="566.47" cy="803.56" r="0.55" fill="#dcdcff"/>
<circle cx="566.47" cy="808.24" r="0.55" fill="#e0ffff"/>
<circle cx="568.88" cy="803.79" r="0.55" fill="#dcdcff"/>
<circle cx="568.88" cy="808.22" r="0.55" fill="#e0ffff"/>
<circle cx="571.30" cy="804.95" r="0.55" fill="#dcdcff"/>
<circle cx="571.30" cy="809.01" r="0.55" fill="#e0ffff"/>
<circle cx="573.72" cy="805.92" r="0.55" fill="#dcdcff"/>
<circle cx="573.72" cy="810.64" r="0.55" fill="#e0ffff"/>
<circle cx="576.13" cy="806.83" r="0.55" fill="#dcdcff"/>
<circle cx="576.13" cy="812.38" r="0.55" fill="#e0ffff"/>
<circle cx="578.55" cy="807.74" r="0.55" fill="#dcdcff"/>
<circle cx="578.55" cy="813.70" r="0.55" fill="#e0ffff"/>
<circle cx="580.96" cy="808.72" r="0.55" fill="#dcdcff"/>
<circle cx="580.96" cy="814.90" r="0.55" fill="#e0ffff"/>
<circle cx="583.38" cy="810.14" r="0.55" fill="#dcdcff"/>
<circle cx="583.38" cy="816.19" r="0.55" fill="#e0ffff"/>
<circle cx="585.79" cy="811.78" r="0.55" fill="#dcdcff"/>
<circle cx="585.79" cy="817.53" r="0.55" fill="#e0ffff"/>
<circle cx="588.21" cy="813.78" r="0.55" fill="#dcdcff"/>
<circle cx="588.21" cy="816.57" r="0.55" fill="#e0ffff"/>
<circle cx="590.62" cy="815.60" r="0.55" fill="#dcdcff"/>
<circle cx="590.62" cy="813.30" r="0.55" fill="#e0ffff"/>
<circle cx="593.04" cy="815.06" r="0.55" fill="#dcdcff"/>
<circle cx="593.04" cy="810.03" r="0.55" fill="#e0ffff"/>
<circle cx="595.45" cy="813.84" r="0.55" fill="#dcdcff"/>
<circle cx="595.45" cy="807.49" r="0.55" fill="#e0ffff"/>
<circle cx="597.87" cy="814.41" r="0.55" fill="#dcdcff"/>
<circle cx="597.87" cy="808.73" r="0.55" fill="#e0ffff"/>
<circle cx="600.28" cy="816.41" r="0.55" fill="#dcdcff"/>
<circle cx="600.28" cy="811.56" r="0.55" fill="#e0ffff"/>
<circle cx="602.70" cy="818.64" r="0.55" fill="#dcdcff"/>
<circle cx="602.70" cy="814.56" r="0.55" fill="#e0ffff"/>
<circle cx="605.12" cy="822.53" r="0.55" fill="#dcdcff"/>
<circle cx="605.12" cy="818.73" r="0.55" fill="#e0ffff"/>
<circle cx="607.53" cy="827.39" r="0.55" fill="#dcdcff"/>
<circle cx="607.53" cy="823.53" r="0.55" fill="#e0ffff"/>
<circle cx="609.95" cy="832.54" r="0.55" fill="#dcdcff"/>
<circle cx="609.95" cy="828.02" r="0.55" fill="#e0ffff"/>
<circle cx="612.36" cy="837.88" r="0.55" fill="#dcdcff"/>
<circle cx="612.36" cy="832.30" r="0.55" fill="#e0ffff"/>
<circle cx="614.78" cy="840.34" r="0.55" fill="#dcdcff"/>
<circle cx="614.78" cy="834.53" r="0.55" fill="#e0ffff"/>
<circle cx="617.19" cy="838.59" r="0.55" fill="#dcdcff"/>
<circle cx="617.19" cy="833.77" r="0.55" fill="#e0ffff"/>
<circle cx="619.61" cy="836.12" r="0.55" fill="#dcdcff"/>
<circle cx="619.61" cy="832.41" r="0.55" fill="#e0ffff"/>
<circle cx="622.02" cy="832.55" r="0.55" fill="#dcdcff"/>
<circle cx="622.02" cy="829.89" r="0.55" fill="#e0ffff"/>
<circle cx="624.44" cy="828.72" r="0.55" fill="#dcdcff"/>
<circle cx="624.44" cy="827.10" r="0.55" fill="#e0ffff"/>
<circle cx="626.85" cy="825.71" r="0.55" fill="#dcdcff"/>
<circle cx="626.85" cy="824.85" r="0.55" fill="#e0ffff"/>
<circle cx="629.27" cy="823.73" r="0.55" fill="#dcdcff"/>
<circle cx="629.27" cy="825.43" r="0.55" fill="#e0ffff"/>
<circle cx="631.68" cy="821.93" r="0.55" fill="#dcdcff"/>
<circle cx="631.68" cy="827.22" r="0.55" fill="#e0ffff"/>
<circle cx="634.10" cy="820.91" r="0.55" fill="#dcdcff"/>
<circle cx="634.10" cy="829.04" r="0.55" fill="#e0ffff"/>
<circle cx="636.52" cy="820.85" r="0.55" fill="#dcdcff"/>
<circle cx="636.52" cy="830.86" r="0.55" fill="#e0ffff"/>
<circle cx="638.93" cy="825.25" r="0.55" fill="#dcdcff"/>
<circle cx="638.93" cy="832.54" r="0.55" fill="#e0ffff"/>
<circle cx="641.35" cy="832.09" r="0.55" fill="#dcdcff"/>
<circle cx="641.35" cy="834.13" r="0.55" fill="#e0ffff"/>
<circle cx="643.76" cy="838.59" r="0.55" fill="#dcdcff"/>
<circle cx="643.76" cy="835.76" r="0.55" fill="#e0ffff"/>
<circle cx="646.18" cy="843.34" r="0.55" fill="#dcdcff"/>
<circle cx="646.18" cy="838.47" r="0.55" fill="#e0ffff"/>
<circle cx="648.59" cy="846.56" r="0.55" fill="#dcdcff"/>
<circle cx="648.59" cy="842.11" r="0.55" fill="#e0ffff"/>
<circle cx="651.01" cy="849.78" r="0.55" fill="#dcdcff"/>
<circle cx="651.01" cy="845.75" r="0.55" fill="#e0ffff"/>
<circle cx="653.42" cy="852.23" r="0.55" fill="#dcdcff"/>
<circle cx="653.42" cy="848.62" r="0.55" fill="#e0ffff"/>
<circle cx="655.84" cy="853.86" r="0.55" fill="#dcdcff"/>
<circle cx="655.84" cy="850.67" r="0.55" fill="#e0ffff"/>
<circle cx="658.25" cy="855.47" r="0.55" fill="#dcdcff"/>
<circle cx="658.25" cy="852.70" r="0.55" fill="#e0ffff"/>
<circle cx="660.67" cy="857.08" r="0.55" fill="#dcdcff"/>
<circle cx="660.67" cy="854.56" r="0.55" fill="#e0ffff"/>
<circle cx="663.08" cy="858.69" r="0.55" fill="#dcdcff"/>
<circle cx="663.08" cy="856.19" r="0.55" fill="#e0ffff"/>
<circle cx="665.50" cy="859.90" r="0.55" fill="#dcdcff"/>
<circle cx="665.50" cy="857.40" r="0.55" fill="#e0ffff"/>
<circle cx="515.50" cy="912.2" r="3.7" fill="none" stroke="#2a3a8a" stroke-width="1.4"/>
<circle cx="515.50" cy="926.2" r="3.7" fill="none" stroke="#2a9aa0" stroke-width="1.4"/>
<text x="523.50" y="915.60" font-size="9.5" text-anchor="start" font-style="italic" fill="#1a1a1a" >WT</text>
<text x="523.50" y="929.60" font-size="9.5" text-anchor="start" font-style="italic" fill="#1a1a1a" >Aox4<tspan dy="-3" font-size="7">-/-</tspan></text>
<text x="0" y="0" font-size="10" letter-spacing="1.1" text-anchor="middle" fill="#1a1a1a" transform="translate(458.50,869) rotate(-90)">KJ/acq</text>
<path d="M523.60,841.30L523.60,845.30M521.87,842.30L525.33,844.30M525.33,842.30L521.87,844.30" stroke="#666" stroke-width="1.1" fill="none"/>
<path d="M537.40,863.30L537.40,867.30M535.67,864.30L539.13,866.30M539.13,864.30L535.67,866.30" stroke="#666" stroke-width="1.1" fill="none"/>
</svg></body></html>
